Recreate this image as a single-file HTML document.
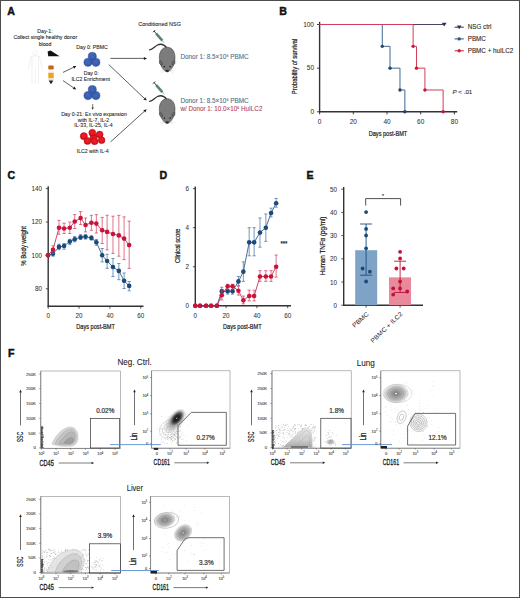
<!DOCTYPE html>
<html><head><meta charset="utf-8"><title>Figure</title>
<style>
html,body{margin:0;padding:0;background:#fff;}
svg{display:block;}
text{font-family:"Liberation Sans", sans-serif;}
</style></head>
<body>
<svg width="520" height="598" viewBox="0 0 520 598">
<defs>
<radialGradient id="gBlueCell" cx="50%" cy="45%" r="55%"><stop offset="0" stop-color="#4a72c4"/><stop offset="0.7" stop-color="#3a60b2"/><stop offset="1" stop-color="#2a4a94"/></radialGradient>
<radialGradient id="gRedCell" cx="50%" cy="45%" r="55%"><stop offset="0" stop-color="#f0202a"/><stop offset="0.7" stop-color="#e0141e"/><stop offset="1" stop-color="#b00812"/></radialGradient>
<radialGradient id="gBlob" cx="50%" cy="50%" r="50%"><stop offset="0" stop-color="#111"/><stop offset="0.35" stop-color="#555"/><stop offset="0.7" stop-color="#aaa"/><stop offset="1" stop-color="#fff" stop-opacity="0"/></radialGradient>
<radialGradient id="gBlobL" cx="50%" cy="50%" r="50%"><stop offset="0" stop-color="#444"/><stop offset="0.5" stop-color="#888"/><stop offset="0.85" stop-color="#ccc"/><stop offset="1" stop-color="#fff" stop-opacity="0"/></radialGradient>
<radialGradient id="gC" cx="50%" cy="50%" r="50%"><stop offset="0" stop-color="#333"/><stop offset="0.4" stop-color="#777"/><stop offset="0.8" stop-color="#bbb"/><stop offset="1" stop-color="#ddd" stop-opacity="0.3"/></radialGradient>
<radialGradient id="gK" cx="50%" cy="50%" r="50%"><stop offset="0" stop-color="#000"/><stop offset="0.45" stop-color="#222"/><stop offset="0.75" stop-color="#777"/><stop offset="1" stop-color="#ccc" stop-opacity="0.3"/></radialGradient>
<linearGradient id="gLung" x1="0" y1="0" x2="0" y2="1"><stop offset="0" stop-color="#e4e4e4"/><stop offset="0.6" stop-color="#cfcfcf"/><stop offset="1" stop-color="#a8a8a8"/></linearGradient>
<radialGradient id="gG" cx="50%" cy="50%" r="50%"><stop offset="0" stop-color="#555"/><stop offset="0.35" stop-color="#888"/><stop offset="0.75" stop-color="#bbb"/><stop offset="1" stop-color="#ddd" stop-opacity="0.4"/></radialGradient>
</defs>
<rect x="0.5" y="0.5" width="519" height="597" fill="#fff" stroke="#4c4c4c" stroke-width="1"/>
<text x="7.30" y="14.70" font-size="10.6" text-anchor="start" fill="#111" font-weight="bold" stroke="#111" stroke-width="0.45">A</text>
<text x="279.30" y="14.50" font-size="10.6" text-anchor="start" fill="#111" font-weight="bold" stroke="#111" stroke-width="0.45">B</text>
<text x="7.50" y="179.00" font-size="10.6" text-anchor="start" fill="#111" font-weight="bold" stroke="#111" stroke-width="0.45">C</text>
<text x="159.50" y="179.00" font-size="10.6" text-anchor="start" fill="#111" font-weight="bold" stroke="#111" stroke-width="0.45">D</text>
<text x="306.50" y="179.10" font-size="10.6" text-anchor="start" fill="#111" font-weight="bold" stroke="#111" stroke-width="0.45">E</text>
<text x="7.90" y="357.20" font-size="10.6" text-anchor="start" fill="#111" font-weight="bold" stroke="#111" stroke-width="0.45">F</text>
<text x="45.00" y="33.00" font-size="5.2" text-anchor="middle" fill="#222" font-weight="normal" stroke="#222" stroke-width="0.08">Day-1:</text>
<text x="45.30" y="39.10" font-size="5.2" text-anchor="middle" fill="#222" font-weight="normal" stroke="#222" stroke-width="0.08">Collect single healthy donor</text>
<text x="45.00" y="45.60" font-size="5.2" text-anchor="middle" fill="#222" font-weight="normal" stroke="#222" stroke-width="0.08">blood</text>
<text x="92.00" y="48.70" font-size="5.2" text-anchor="middle" fill="#222" font-weight="normal" stroke="#222" stroke-width="0.08">Day 0: PBMC</text>
<text x="91.20" y="75.30" font-size="5.2" text-anchor="middle" fill="#222" font-weight="normal" stroke="#222" stroke-width="0.08">Day 0:</text>
<text x="90.70" y="81.30" font-size="5.2" text-anchor="middle" fill="#222" font-weight="normal" stroke="#222" stroke-width="0.08">ILC2 Enrichment</text>
<text x="94.00" y="116.00" font-size="5.2" text-anchor="middle" fill="#222" font-weight="normal" stroke="#222" stroke-width="0.08">Day 0-21: Ex vivo expansion</text>
<text x="93.50" y="121.50" font-size="5.2" text-anchor="middle" fill="#222" font-weight="normal" stroke="#222" stroke-width="0.08">with IL-7, IL-2</text>
<text x="93.50" y="127.20" font-size="5.2" text-anchor="middle" fill="#222" font-weight="normal" stroke="#222" stroke-width="0.08">IL-33, IL-25, IL-4</text>
<text x="92.70" y="153.40" font-size="5.2" text-anchor="middle" fill="#222" font-weight="normal" stroke="#222" stroke-width="0.08">ILC2 with IL-4</text>
<text x="159.60" y="25.80" font-size="5.5" text-anchor="middle" fill="#222" font-weight="normal" stroke="#222" stroke-width="0.08">Conditioned NSG</text>
<text x="180.40" y="59.00" font-size="6.4" text-anchor="start" fill="#4a6e92" font-weight="normal" stroke="#4a6e92" stroke-width="0.08">Donor 1: 8.5×10<tspan font-size="3.6" dy="-2.3">6</tspan><tspan dy="2.3"> PBMC</tspan></text>
<text x="180.40" y="102.80" font-size="6.4" text-anchor="start" fill="#4a6e92" font-weight="normal" stroke="#4a6e92" stroke-width="0.08">Donor 1: 8.5×10<tspan font-size="3.6" dy="-2.3">6</tspan><tspan dy="2.3"> PBMC</tspan></text>
<text x="180.40" y="110.90" font-size="6.3" text-anchor="start" fill="#b8404f" font-weight="normal" stroke="#b8404f" stroke-width="0.08">w/ Donor 1: 10.0×10<tspan font-size="3.6" dy="-2.3">6</tspan><tspan dy="2.3"> HuILC2</tspan></text>
<g fill="none" stroke="#e2e2e2" stroke-width="0.5"><circle cx="35.3" cy="52.6" r="2.2"/><path d="M31,56 L39.5,56 L42.5,70 M31,56 L28.5,70 M32,56 L32,84 M38.5,56 L38.5,84 M35.3,68 L35.3,84"/></g>
<polygon points="47.6,51.5 50.5,50.6 59.5,56.3 48.2,56.3" fill="#111"/>
<rect x="48.3" y="65.6" width="5.4" height="3.9" rx="0.8" fill="#c8641e"/>
<rect x="48.3" y="70.6" width="5.4" height="2.2" fill="#f2f2f2"/>
<rect x="48.3" y="72.8" width="5.4" height="5.2" rx="0.5" fill="#e6a820"/>
<rect x="48.3" y="78.0" width="5.4" height="2.0" fill="#f0e0c0"/>
<polygon points="48.6,80.6 53.4,80.6 51,84.2" fill="#222"/>
<line x1="63.00" y1="72.40" x2="73.51" y2="67.38" stroke="#1a1a1a" stroke-width="0.7" />
<polygon points="76.40,66.00 74.16,68.73 72.87,66.03" fill="#1a1a1a"/>
<line x1="63.00" y1="80.60" x2="73.56" y2="87.80" stroke="#1a1a1a" stroke-width="0.7" />
<polygon points="76.20,89.60 72.71,89.04 74.40,86.56" fill="#1a1a1a"/>
<line x1="110.40" y1="58.40" x2="143.80" y2="58.40" stroke="#1a1a1a" stroke-width="0.7" />
<polygon points="147.00,58.40 143.80,59.90 143.80,56.90" fill="#1a1a1a"/>
<line x1="108.80" y1="64.60" x2="144.38" y2="98.40" stroke="#1a1a1a" stroke-width="0.7" />
<polygon points="146.70,100.60 143.35,99.48 145.41,97.31" fill="#1a1a1a"/>
<line x1="110.60" y1="141.90" x2="144.33" y2="111.35" stroke="#1a1a1a" stroke-width="0.7" />
<polygon points="146.70,109.20 145.34,112.46 143.32,110.24" fill="#1a1a1a"/>
<line x1="92.70" y1="104.00" x2="92.70" y2="107.60" stroke="#1a1a1a" stroke-width="0.6" />
<polygon points="92.70,109.80 91.60,107.60 93.80,107.60" fill="#1a1a1a"/>
<circle cx="88.00" cy="62.30" r="4.10" fill="url(#gBlueCell)" stroke="#2d4f9a" stroke-width="0.4" />
<circle cx="88.60" cy="62.70" r="1.60" fill="none" stroke="#2b4a8c" stroke-width="0.35" />
<circle cx="95.90" cy="62.30" r="4.10" fill="url(#gBlueCell)" stroke="#2d4f9a" stroke-width="0.4" />
<circle cx="96.50" cy="62.70" r="1.60" fill="none" stroke="#2b4a8c" stroke-width="0.35" />
<circle cx="92.30" cy="56.30" r="4.10" fill="url(#gBlueCell)" stroke="#2d4f9a" stroke-width="0.4" />
<circle cx="92.90" cy="56.70" r="1.60" fill="none" stroke="#2b4a8c" stroke-width="0.35" />
<circle cx="88.00" cy="95.60" r="4.10" fill="url(#gBlueCell)" stroke="#2d4f9a" stroke-width="0.4" />
<circle cx="88.60" cy="96.00" r="1.60" fill="none" stroke="#2b4a8c" stroke-width="0.35" />
<circle cx="95.90" cy="95.60" r="4.10" fill="url(#gBlueCell)" stroke="#2d4f9a" stroke-width="0.4" />
<circle cx="96.50" cy="96.00" r="1.60" fill="none" stroke="#2b4a8c" stroke-width="0.35" />
<circle cx="92.30" cy="89.60" r="4.10" fill="url(#gBlueCell)" stroke="#2d4f9a" stroke-width="0.4" />
<circle cx="92.90" cy="90.00" r="1.60" fill="none" stroke="#2b4a8c" stroke-width="0.35" />
<circle cx="93.50" cy="137.50" r="3.40" fill="url(#gRedCell)" stroke="#b80c16" stroke-width="0.4" />
<circle cx="83.80" cy="136.20" r="3.60" fill="url(#gRedCell)" stroke="#b80c16" stroke-width="0.4" />
<circle cx="92.30" cy="132.70" r="3.50" fill="url(#gRedCell)" stroke="#b80c16" stroke-width="0.4" />
<circle cx="99.60" cy="134.60" r="3.50" fill="url(#gRedCell)" stroke="#b80c16" stroke-width="0.4" />
<circle cx="87.50" cy="141.00" r="3.50" fill="url(#gRedCell)" stroke="#b80c16" stroke-width="0.4" />
<circle cx="94.60" cy="141.20" r="3.50" fill="url(#gRedCell)" stroke="#b80c16" stroke-width="0.4" />
<circle cx="101.60" cy="140.20" r="3.40" fill="url(#gRedCell)" stroke="#b80c16" stroke-width="0.4" />
<path d="M166.6,47.6 C164,44.3 160.5,43.6 157.5,45 C154.5,46.6 152.5,49.6 149.6,49.8" fill="none" stroke="#333" stroke-width="1.3" stroke-linecap="round"/>
<line x1="156.2" y1="33.6" x2="162.4" y2="40.6" stroke="#5e8878" stroke-width="2.6" stroke-linecap="butt"/>
<line x1="156.2" y1="33.6" x2="162.4" y2="40.6" stroke="#2a4a40" stroke-width="0.35" stroke-dasharray="1,1"/>
<line x1="154.0" y1="31.0" x2="156.4" y2="33.8" stroke="#1e2a28" stroke-width="0.9"/>
<line x1="153.0" y1="32.2" x2="155.2" y2="30.0" stroke="#1e2a28" stroke-width="0.9"/>
<line x1="162.4" y1="40.6" x2="164.2" y2="42.8" stroke="#444" stroke-width="0.45"/>
<path d="M167.2,47.2 C172.4,47.2 175.0,52 175.0,57.5 C175.0,62.5 173.6,65.8 172.0,68.0 C170.6,70.2 169,71.9 167.2,71.9 C165.4,71.9 163.8,70.2 162.4,68.0 C160.8,65.8 159.3,62.5 159.3,57.5 C159.3,52 162,47.2 167.2,47.2 Z" fill="#7c7c7c" stroke="#3c3c3c" stroke-width="0.55"/>
<path d="M160.0,60.5 C158.6,62.5 159.6,65.2 162.4,65.0 C162.6,63 162,61 160.0,60.5 Z" fill="#6a6a6a" stroke="#3a3a3a" stroke-width="0.45"/>
<path d="M174.4,60.5 C175.8,62.5 174.8,65.2 172.0,65.0 C171.8,63 172.4,61 174.4,60.5 Z" fill="#6a6a6a" stroke="#3a3a3a" stroke-width="0.45"/>
<circle cx="164.3" cy="66.6" r="0.8" fill="#222"/>
<circle cx="170.1" cy="66.6" r="0.8" fill="#222"/>
<ellipse cx="167.2" cy="70.8" rx="1.7" ry="1.1" fill="#2a2a2a"/>
<path d="M164.5,69.5 L160.5,71.0 M164.5,70.4 L161.2,73.2 M169.9,69.5 L173.9,71.0 M169.9,70.4 L173.2,73.2" stroke="#bbb" stroke-width="0.35"/>
<path d="M166.6,99.1 C164,95.8 160.5,95.1 157.5,96.5 C154.5,98.1 152.5,101.1 149.6,101.3" fill="none" stroke="#333" stroke-width="1.3" stroke-linecap="round"/>
<line x1="156.2" y1="85.1" x2="162.4" y2="92.1" stroke="#5e8878" stroke-width="2.6" stroke-linecap="butt"/>
<line x1="156.2" y1="85.1" x2="162.4" y2="92.1" stroke="#2a4a40" stroke-width="0.35" stroke-dasharray="1,1"/>
<line x1="154.0" y1="82.5" x2="156.4" y2="85.3" stroke="#1e2a28" stroke-width="0.9"/>
<line x1="153.0" y1="83.7" x2="155.2" y2="81.5" stroke="#1e2a28" stroke-width="0.9"/>
<line x1="162.4" y1="92.1" x2="164.2" y2="94.3" stroke="#444" stroke-width="0.45"/>
<path d="M167.2,98.7 C172.4,98.7 175.0,103.5 175.0,109.0 C175.0,114.0 173.6,117.3 172.0,119.5 C170.6,121.7 169,123.4 167.2,123.4 C165.4,123.4 163.8,121.7 162.4,119.5 C160.8,117.3 159.3,114.0 159.3,109.0 C159.3,103.5 162,98.7 167.2,98.7 Z" fill="#7c7c7c" stroke="#3c3c3c" stroke-width="0.55"/>
<path d="M160.0,112.0 C158.6,114.0 159.6,116.7 162.4,116.5 C162.6,114.5 162,112.5 160.0,112.0 Z" fill="#6a6a6a" stroke="#3a3a3a" stroke-width="0.45"/>
<path d="M174.4,112.0 C175.8,114.0 174.8,116.7 172.0,116.5 C171.8,114.5 172.4,112.5 174.4,112.0 Z" fill="#6a6a6a" stroke="#3a3a3a" stroke-width="0.45"/>
<circle cx="164.3" cy="118.1" r="0.8" fill="#222"/>
<circle cx="170.1" cy="118.1" r="0.8" fill="#222"/>
<ellipse cx="167.2" cy="122.3" rx="1.7" ry="1.1" fill="#2a2a2a"/>
<path d="M164.5,121.0 L160.5,122.5 M164.5,121.9 L161.2,124.7 M169.9,121.0 L173.9,122.5 M169.9,121.9 L173.2,124.7" stroke="#bbb" stroke-width="0.35"/>
<line x1="319.60" y1="21.80" x2="319.60" y2="112.40" stroke="#333" stroke-width="1.4" />
<line x1="319.00" y1="111.80" x2="457.20" y2="111.80" stroke="#333" stroke-width="1.4" />
<line x1="317.00" y1="111.80" x2="319.60" y2="111.80" stroke="#2a2a2a" stroke-width="0.9" />
<text x="314.00" y="114.10" font-size="6.5" text-anchor="end" fill="#333" font-weight="normal" stroke="#333" stroke-width="0.05">0</text>
<line x1="317.00" y1="68.15" x2="319.60" y2="68.15" stroke="#2a2a2a" stroke-width="0.9" />
<text x="314.00" y="70.45" font-size="6.5" text-anchor="end" fill="#333" font-weight="normal" stroke="#333" stroke-width="0.05">50</text>
<line x1="317.00" y1="24.50" x2="319.60" y2="24.50" stroke="#2a2a2a" stroke-width="0.9" />
<text x="314.00" y="26.80" font-size="6.5" text-anchor="end" fill="#333" font-weight="normal" stroke="#333" stroke-width="0.05">100</text>
<line x1="319.60" y1="111.80" x2="319.60" y2="114.40" stroke="#2a2a2a" stroke-width="0.9" />
<text x="319.60" y="123.90" font-size="6.5" text-anchor="middle" fill="#333" font-weight="normal" stroke="#333" stroke-width="0.05">0</text>
<line x1="353.30" y1="111.80" x2="353.30" y2="114.40" stroke="#2a2a2a" stroke-width="0.9" />
<text x="353.30" y="123.90" font-size="6.5" text-anchor="middle" fill="#333" font-weight="normal" stroke="#333" stroke-width="0.05">20</text>
<line x1="387.00" y1="111.80" x2="387.00" y2="114.40" stroke="#2a2a2a" stroke-width="0.9" />
<text x="387.00" y="123.90" font-size="6.5" text-anchor="middle" fill="#333" font-weight="normal" stroke="#333" stroke-width="0.05">40</text>
<line x1="420.70" y1="111.80" x2="420.70" y2="114.40" stroke="#2a2a2a" stroke-width="0.9" />
<text x="420.70" y="123.90" font-size="6.5" text-anchor="middle" fill="#333" font-weight="normal" stroke="#333" stroke-width="0.05">60</text>
<line x1="454.40" y1="111.80" x2="454.40" y2="114.40" stroke="#2a2a2a" stroke-width="0.9" />
<text x="454.40" y="123.90" font-size="6.5" text-anchor="middle" fill="#333" font-weight="normal" stroke="#333" stroke-width="0.05">80</text>
<text x="388.00" y="135.70" font-size="7.8" text-anchor="middle" fill="#1a1a1a" textLength="38.6" lengthAdjust="spacingAndGlyphs" stroke="#1a1a1a" stroke-width="0.22">Days post-BMT</text>
<text transform="translate(294.20,66.50) rotate(-90)" x="0" y="2.66" font-size="7.4" text-anchor="middle" fill="#1a1a1a" textLength="55.4" lengthAdjust="spacingAndGlyphs" stroke="#1a1a1a" stroke-width="0.22">Probability of survival</text>
<line x1="319.60" y1="24.50" x2="444.20" y2="24.50" stroke="#4e4066" stroke-width="1.0" />
<polygon points="441.80,22.70 446.60,22.70 444.2,26.50" fill="#3a2c52"/>
<path d="M319.60,24.50 H382.28 V46.33 H390.03 V68.15 H399.97 V89.97 H404.86 V111.80" fill="none" stroke="#3f6892" stroke-width="1.0"/>
<circle cx="382.28" cy="46.33" r="1.70" fill="#1d4570" stroke="none" stroke-width="0" />
<circle cx="390.03" cy="68.15" r="1.70" fill="#1d4570" stroke="none" stroke-width="0" />
<circle cx="399.97" cy="89.97" r="1.70" fill="#1d4570" stroke="none" stroke-width="0" />
<circle cx="404.86" cy="111.80" r="1.70" fill="#1d4570" stroke="none" stroke-width="0" />
<path d="M319.60,24.50 H413.12 V46.33 H416.49 V68.15 H424.91 V89.97 H443.11 V111.80" fill="none" stroke="#d23c58" stroke-width="1.0"/>
<circle cx="413.12" cy="46.33" r="1.70" fill="#c01838" stroke="none" stroke-width="0" />
<circle cx="416.49" cy="68.15" r="1.70" fill="#c01838" stroke="none" stroke-width="0" />
<circle cx="424.91" cy="89.97" r="1.70" fill="#c01838" stroke="none" stroke-width="0" />
<circle cx="443.11" cy="111.80" r="1.70" fill="#c01838" stroke="none" stroke-width="0" />
<line x1="454.60" y1="27.20" x2="463.80" y2="27.20" stroke="#3a2c52" stroke-width="1.0" />
<polygon points="456.90,25.50 461.50,25.50 459.2,29.20" fill="#3a2c52"/>
<text x="467.70" y="29.40" font-size="6.3" text-anchor="start" fill="#222" font-weight="normal" stroke="#222" stroke-width="0.08">NSG ctrl</text>
<line x1="454.60" y1="38.90" x2="463.80" y2="38.90" stroke="#2b5685" stroke-width="1.0" />
<circle cx="459.20" cy="38.90" r="1.70" fill="#2b5685" stroke="none" stroke-width="0" />
<text x="467.70" y="41.10" font-size="6.3" text-anchor="start" fill="#222" font-weight="normal" stroke="#222" stroke-width="0.08">PBMC</text>
<line x1="454.60" y1="50.80" x2="463.80" y2="50.80" stroke="#c8203f" stroke-width="1.0" />
<circle cx="459.20" cy="50.80" r="1.70" fill="#c8203f" stroke="none" stroke-width="0" />
<text x="467.70" y="53.00" font-size="6.3" text-anchor="start" fill="#222" font-weight="normal" stroke="#222" stroke-width="0.08">PBMC + huILC2</text>
<text x="452.50" y="93.90" font-size="6.2" text-anchor="start" fill="#222" font-weight="normal" stroke="#222" stroke-width="0.08"><tspan font-style="italic">P</tspan> &lt; .01</text>
<line x1="48.20" y1="186.30" x2="48.20" y2="306.90" stroke="#333" stroke-width="1.4" />
<line x1="47.60" y1="306.30" x2="143.50" y2="306.30" stroke="#333" stroke-width="1.4" />
<line x1="45.80" y1="288.80" x2="48.20" y2="288.80" stroke="#2a2a2a" stroke-width="0.8" />
<text x="41.90" y="291.00" font-size="6.3" text-anchor="end" fill="#333" font-weight="normal" stroke="#333" stroke-width="0.05">80</text>
<line x1="45.80" y1="255.40" x2="48.20" y2="255.40" stroke="#2a2a2a" stroke-width="0.8" />
<text x="41.90" y="257.60" font-size="6.3" text-anchor="end" fill="#333" font-weight="normal" stroke="#333" stroke-width="0.05">100</text>
<line x1="45.80" y1="222.00" x2="48.20" y2="222.00" stroke="#2a2a2a" stroke-width="0.8" />
<text x="41.90" y="224.20" font-size="6.3" text-anchor="end" fill="#333" font-weight="normal" stroke="#333" stroke-width="0.05">120</text>
<line x1="45.80" y1="188.60" x2="48.20" y2="188.60" stroke="#2a2a2a" stroke-width="0.8" />
<text x="41.90" y="190.80" font-size="6.3" text-anchor="end" fill="#333" font-weight="normal" stroke="#333" stroke-width="0.05">140</text>
<line x1="48.20" y1="306.30" x2="48.20" y2="308.70" stroke="#2a2a2a" stroke-width="0.8" />
<text x="48.20" y="317.90" font-size="6.3" text-anchor="middle" fill="#333" font-weight="normal" stroke="#333" stroke-width="0.05">0</text>
<line x1="79.05" y1="306.30" x2="79.05" y2="308.70" stroke="#2a2a2a" stroke-width="0.8" />
<text x="79.05" y="317.90" font-size="6.3" text-anchor="middle" fill="#333" font-weight="normal" stroke="#333" stroke-width="0.05">20</text>
<line x1="109.90" y1="306.30" x2="109.90" y2="308.70" stroke="#2a2a2a" stroke-width="0.8" />
<text x="109.90" y="317.90" font-size="6.3" text-anchor="middle" fill="#333" font-weight="normal" stroke="#333" stroke-width="0.05">40</text>
<line x1="140.75" y1="306.30" x2="140.75" y2="308.70" stroke="#2a2a2a" stroke-width="0.8" />
<text x="140.75" y="317.90" font-size="6.3" text-anchor="middle" fill="#333" font-weight="normal" stroke="#333" stroke-width="0.05">60</text>
<text x="95.60" y="329.20" font-size="7.8" text-anchor="middle" fill="#1a1a1a" textLength="38.6" lengthAdjust="spacingAndGlyphs" stroke="#1a1a1a" stroke-width="0.22">Days post-BMT</text>
<text transform="translate(22.90,245.90) rotate(-90)" x="0" y="2.66" font-size="7.4" text-anchor="middle" fill="#1a1a1a" textLength="39.5" lengthAdjust="spacingAndGlyphs" stroke="#1a1a1a" stroke-width="0.22">% Body weight</text>
<polyline points="48.00,255.20 52.98,253.80 59.00,246.90 64.09,246.00 69.80,241.60 74.73,239.30 80.59,237.20 85.53,236.80 91.39,237.90 96.33,242.30 102.19,255.20 107.12,261.00 112.98,267.00 118.85,270.90 124.09,280.80 129.18,285.90" fill="none" stroke="#1b4a7a" stroke-width="0.8"/>
<path d="M52.98,252.00 V256.20 M51.38,252.00 H54.58 M51.38,256.20 H54.58" stroke="#3d6d9d" stroke-width="0.7" fill="none"/>
<path d="M59.00,244.20 V249.70 M57.40,244.20 H60.60 M57.40,249.70 H60.60" stroke="#3d6d9d" stroke-width="0.7" fill="none"/>
<path d="M64.09,243.50 V249.20 M62.49,243.50 H65.69 M62.49,249.20 H65.69" stroke="#3d6d9d" stroke-width="0.7" fill="none"/>
<path d="M69.80,239.30 V244.60 M68.20,239.30 H71.39 M68.20,244.60 H71.39" stroke="#3d6d9d" stroke-width="0.7" fill="none"/>
<path d="M74.73,236.50 V241.80 M73.13,236.50 H76.33 M73.13,241.80 H76.33" stroke="#3d6d9d" stroke-width="0.7" fill="none"/>
<path d="M80.59,234.70 V239.50 M78.99,234.70 H82.19 M78.99,239.50 H82.19" stroke="#3d6d9d" stroke-width="0.7" fill="none"/>
<path d="M85.53,234.70 V239.10 M83.93,234.70 H87.13 M83.93,239.10 H87.13" stroke="#3d6d9d" stroke-width="0.7" fill="none"/>
<path d="M91.39,236.00 V240.00 M89.79,236.00 H92.99 M89.79,240.00 H92.99" stroke="#3d6d9d" stroke-width="0.7" fill="none"/>
<path d="M96.33,239.50 V245.30 M94.73,239.50 H97.93 M94.73,245.30 H97.93" stroke="#3d6d9d" stroke-width="0.7" fill="none"/>
<path d="M102.19,248.50 V261.90 M100.59,248.50 H103.79 M100.59,261.90 H103.79" stroke="#3d6d9d" stroke-width="0.7" fill="none"/>
<path d="M107.12,254.30 V268.40 M105.52,254.30 H108.72 M105.52,268.40 H108.72" stroke="#3d6d9d" stroke-width="0.7" fill="none"/>
<path d="M112.98,258.50 V276.50 M111.39,258.50 H114.58 M111.39,276.50 H114.58" stroke="#3d6d9d" stroke-width="0.7" fill="none"/>
<path d="M118.85,263.50 V279.70 M117.25,263.50 H120.45 M117.25,279.70 H120.45" stroke="#3d6d9d" stroke-width="0.7" fill="none"/>
<path d="M124.09,273.00 V288.50 M122.49,273.00 H125.69 M122.49,288.50 H125.69" stroke="#3d6d9d" stroke-width="0.7" fill="none"/>
<path d="M129.18,281.50 V290.80 M127.58,281.50 H130.78 M127.58,290.80 H130.78" stroke="#3d6d9d" stroke-width="0.7" fill="none"/>
<circle cx="48.00" cy="255.20" r="2.30" fill="#1b4a7a" stroke="none" stroke-width="0" />
<circle cx="52.98" cy="253.80" r="2.30" fill="#1b4a7a" stroke="none" stroke-width="0" />
<circle cx="59.00" cy="246.90" r="2.30" fill="#1b4a7a" stroke="none" stroke-width="0" />
<circle cx="64.09" cy="246.00" r="2.30" fill="#1b4a7a" stroke="none" stroke-width="0" />
<circle cx="69.80" cy="241.60" r="2.30" fill="#1b4a7a" stroke="none" stroke-width="0" />
<circle cx="74.73" cy="239.30" r="2.30" fill="#1b4a7a" stroke="none" stroke-width="0" />
<circle cx="80.59" cy="237.20" r="2.30" fill="#1b4a7a" stroke="none" stroke-width="0" />
<circle cx="85.53" cy="236.80" r="2.30" fill="#1b4a7a" stroke="none" stroke-width="0" />
<circle cx="91.39" cy="237.90" r="2.30" fill="#1b4a7a" stroke="none" stroke-width="0" />
<circle cx="96.33" cy="242.30" r="2.30" fill="#1b4a7a" stroke="none" stroke-width="0" />
<circle cx="102.19" cy="255.20" r="2.30" fill="#1b4a7a" stroke="none" stroke-width="0" />
<circle cx="107.12" cy="261.00" r="2.30" fill="#1b4a7a" stroke="none" stroke-width="0" />
<circle cx="112.98" cy="267.00" r="2.30" fill="#1b4a7a" stroke="none" stroke-width="0" />
<circle cx="118.85" cy="270.90" r="2.30" fill="#1b4a7a" stroke="none" stroke-width="0" />
<circle cx="124.09" cy="280.80" r="2.30" fill="#1b4a7a" stroke="none" stroke-width="0" />
<circle cx="129.18" cy="285.90" r="2.30" fill="#1b4a7a" stroke="none" stroke-width="0" />
<polyline points="48.00,255.20 52.98,249.70 59.00,227.80 64.09,228.50 69.80,227.80 74.73,221.50 80.59,218.10 85.53,225.00 91.39,222.70 96.33,223.60 102.19,230.30 107.12,231.90 112.98,234.00 118.85,235.40 124.09,238.60 129.18,245.10" fill="none" stroke="#c8143c" stroke-width="0.8"/>
<path d="M52.98,245.80 V253.40 M51.38,245.80 H54.58 M51.38,253.40 H54.58" stroke="#d23a5a" stroke-width="0.7" fill="none"/>
<path d="M59.00,220.40 V234.20 M57.40,220.40 H60.60 M57.40,234.20 H60.60" stroke="#d23a5a" stroke-width="0.7" fill="none"/>
<path d="M64.09,223.20 V233.50 M62.49,223.20 H65.69 M62.49,233.50 H65.69" stroke="#d23a5a" stroke-width="0.7" fill="none"/>
<path d="M69.80,222.00 V233.50 M68.20,222.00 H71.39 M68.20,233.50 H71.39" stroke="#d23a5a" stroke-width="0.7" fill="none"/>
<path d="M74.73,214.60 V228.50 M73.13,214.60 H76.33 M73.13,228.50 H76.33" stroke="#d23a5a" stroke-width="0.7" fill="none"/>
<path d="M80.59,211.60 V224.50 M78.99,211.60 H82.19 M78.99,224.50 H82.19" stroke="#d23a5a" stroke-width="0.7" fill="none"/>
<path d="M85.53,218.00 V231.90 M83.93,218.00 H87.13 M83.93,231.90 H87.13" stroke="#d23a5a" stroke-width="0.7" fill="none"/>
<path d="M91.39,215.30 V230.30 M89.79,215.30 H92.99 M89.79,230.30 H92.99" stroke="#d23a5a" stroke-width="0.7" fill="none"/>
<path d="M96.33,214.60 V233.00 M94.73,214.60 H97.93 M94.73,233.00 H97.93" stroke="#d23a5a" stroke-width="0.7" fill="none"/>
<path d="M102.19,217.40 V243.50 M100.59,217.40 H103.79 M100.59,243.50 H103.79" stroke="#d23a5a" stroke-width="0.7" fill="none"/>
<path d="M107.12,215.30 V249.90 M105.52,215.30 H108.72 M105.52,249.90 H108.72" stroke="#d23a5a" stroke-width="0.7" fill="none"/>
<path d="M112.98,216.20 V253.40 M111.39,216.20 H114.58 M111.39,253.40 H114.58" stroke="#d23a5a" stroke-width="0.7" fill="none"/>
<path d="M118.85,215.30 V256.20 M117.25,215.30 H120.45 M117.25,256.20 H120.45" stroke="#d23a5a" stroke-width="0.7" fill="none"/>
<path d="M124.09,216.90 V259.60 M122.49,216.90 H125.69 M122.49,259.60 H125.69" stroke="#d23a5a" stroke-width="0.7" fill="none"/>
<path d="M129.18,221.10 V268.40 M127.58,221.10 H130.78 M127.58,268.40 H130.78" stroke="#d23a5a" stroke-width="0.7" fill="none"/>
<circle cx="48.00" cy="255.20" r="2.30" fill="#c8143c" stroke="none" stroke-width="0" />
<circle cx="52.98" cy="249.70" r="2.30" fill="#c8143c" stroke="none" stroke-width="0" />
<circle cx="59.00" cy="227.80" r="2.30" fill="#c8143c" stroke="none" stroke-width="0" />
<circle cx="64.09" cy="228.50" r="2.30" fill="#c8143c" stroke="none" stroke-width="0" />
<circle cx="69.80" cy="227.80" r="2.30" fill="#c8143c" stroke="none" stroke-width="0" />
<circle cx="74.73" cy="221.50" r="2.30" fill="#c8143c" stroke="none" stroke-width="0" />
<circle cx="80.59" cy="218.10" r="2.30" fill="#c8143c" stroke="none" stroke-width="0" />
<circle cx="85.53" cy="225.00" r="2.30" fill="#c8143c" stroke="none" stroke-width="0" />
<circle cx="91.39" cy="222.70" r="2.30" fill="#c8143c" stroke="none" stroke-width="0" />
<circle cx="96.33" cy="223.60" r="2.30" fill="#c8143c" stroke="none" stroke-width="0" />
<circle cx="102.19" cy="230.30" r="2.30" fill="#c8143c" stroke="none" stroke-width="0" />
<circle cx="107.12" cy="231.90" r="2.30" fill="#c8143c" stroke="none" stroke-width="0" />
<circle cx="112.98" cy="234.00" r="2.30" fill="#c8143c" stroke="none" stroke-width="0" />
<circle cx="118.85" cy="235.40" r="2.30" fill="#c8143c" stroke="none" stroke-width="0" />
<circle cx="124.09" cy="238.60" r="2.30" fill="#c8143c" stroke="none" stroke-width="0" />
<circle cx="129.18" cy="245.10" r="2.30" fill="#c8143c" stroke="none" stroke-width="0" />
<line x1="195.30" y1="186.50" x2="195.30" y2="306.40" stroke="#333" stroke-width="1.4" />
<line x1="194.70" y1="305.80" x2="291.00" y2="305.80" stroke="#333" stroke-width="1.4" />
<line x1="192.90" y1="305.80" x2="195.30" y2="305.80" stroke="#2a2a2a" stroke-width="0.8" />
<text x="189.10" y="308.00" font-size="6.3" text-anchor="end" fill="#333" font-weight="normal" stroke="#333" stroke-width="0.05">0</text>
<line x1="192.90" y1="266.75" x2="195.30" y2="266.75" stroke="#2a2a2a" stroke-width="0.8" />
<text x="189.10" y="268.95" font-size="6.3" text-anchor="end" fill="#333" font-weight="normal" stroke="#333" stroke-width="0.05">2</text>
<line x1="192.90" y1="227.70" x2="195.30" y2="227.70" stroke="#2a2a2a" stroke-width="0.8" />
<text x="189.10" y="229.90" font-size="6.3" text-anchor="end" fill="#333" font-weight="normal" stroke="#333" stroke-width="0.05">4</text>
<line x1="192.90" y1="188.65" x2="195.30" y2="188.65" stroke="#2a2a2a" stroke-width="0.8" />
<text x="189.10" y="190.85" font-size="6.3" text-anchor="end" fill="#333" font-weight="normal" stroke="#333" stroke-width="0.05">6</text>
<line x1="195.30" y1="305.80" x2="195.30" y2="308.20" stroke="#2a2a2a" stroke-width="0.8" />
<text x="195.30" y="317.90" font-size="6.3" text-anchor="middle" fill="#333" font-weight="normal" stroke="#333" stroke-width="0.05">0</text>
<line x1="226.10" y1="305.80" x2="226.10" y2="308.20" stroke="#2a2a2a" stroke-width="0.8" />
<text x="226.10" y="317.90" font-size="6.3" text-anchor="middle" fill="#333" font-weight="normal" stroke="#333" stroke-width="0.05">20</text>
<line x1="256.90" y1="305.80" x2="256.90" y2="308.20" stroke="#2a2a2a" stroke-width="0.8" />
<text x="256.90" y="317.90" font-size="6.3" text-anchor="middle" fill="#333" font-weight="normal" stroke="#333" stroke-width="0.05">40</text>
<line x1="287.70" y1="305.80" x2="287.70" y2="308.20" stroke="#2a2a2a" stroke-width="0.8" />
<text x="287.70" y="317.90" font-size="6.3" text-anchor="middle" fill="#333" font-weight="normal" stroke="#333" stroke-width="0.05">60</text>
<text x="242.30" y="329.20" font-size="7.8" text-anchor="middle" fill="#1a1a1a" textLength="38.6" lengthAdjust="spacingAndGlyphs" stroke="#1a1a1a" stroke-width="0.22">Days post-BMT</text>
<text transform="translate(177.70,245.80) rotate(-90)" x="0" y="2.66" font-size="7.4" text-anchor="middle" fill="#1a1a1a" textLength="34.2" lengthAdjust="spacingAndGlyphs" stroke="#1a1a1a" stroke-width="0.22">Clinical score</text>
<polyline points="195.30,305.80 200.07,305.80 206.08,305.80 211.16,305.80 216.86,305.80 221.79,291.16 227.64,291.16 232.57,291.16 238.42,281.39 243.35,271.63 249.20,242.34 254.13,242.34 259.98,232.58 265.83,227.70 271.07,213.06 276.15,203.29" fill="none" stroke="#1b4a7a" stroke-width="0.8"/>
<path d="M221.79,287.25 V295.06 M220.19,287.25 H223.39 M220.19,295.06 H223.39" stroke="#3d6d9d" stroke-width="0.7" fill="none"/>
<path d="M227.64,287.25 V294.09 M226.04,287.25 H229.24 M226.04,294.09 H229.24" stroke="#3d6d9d" stroke-width="0.7" fill="none"/>
<path d="M232.57,287.25 V294.09 M230.97,287.25 H234.17 M230.97,294.09 H234.17" stroke="#3d6d9d" stroke-width="0.7" fill="none"/>
<path d="M238.42,276.51 V285.30 M236.82,276.51 H240.02 M236.82,285.30 H240.02" stroke="#3d6d9d" stroke-width="0.7" fill="none"/>
<path d="M243.35,261.87 V281.39 M241.75,261.87 H244.95 M241.75,281.39 H244.95" stroke="#3d6d9d" stroke-width="0.7" fill="none"/>
<path d="M249.20,227.70 V255.82 M247.60,227.70 H250.80 M247.60,255.82 H250.80" stroke="#3d6d9d" stroke-width="0.7" fill="none"/>
<path d="M254.13,227.70 V255.82 M252.53,227.70 H255.73 M252.53,255.82 H255.73" stroke="#3d6d9d" stroke-width="0.7" fill="none"/>
<path d="M259.98,217.94 V247.23 M258.38,217.94 H261.58 M258.38,247.23 H261.58" stroke="#3d6d9d" stroke-width="0.7" fill="none"/>
<path d="M265.83,214.03 V241.37 M264.23,214.03 H267.43 M264.23,241.37 H267.43" stroke="#3d6d9d" stroke-width="0.7" fill="none"/>
<path d="M271.07,208.18 V216.96 M269.47,208.18 H272.67 M269.47,216.96 H272.67" stroke="#3d6d9d" stroke-width="0.7" fill="none"/>
<path d="M276.15,198.41 V207.20 M274.55,198.41 H277.75 M274.55,207.20 H277.75" stroke="#3d6d9d" stroke-width="0.7" fill="none"/>
<circle cx="195.30" cy="305.80" r="2.30" fill="#1b4a7a" stroke="none" stroke-width="0" />
<circle cx="200.07" cy="305.80" r="2.30" fill="#1b4a7a" stroke="none" stroke-width="0" />
<circle cx="206.08" cy="305.80" r="2.30" fill="#1b4a7a" stroke="none" stroke-width="0" />
<circle cx="211.16" cy="305.80" r="2.30" fill="#1b4a7a" stroke="none" stroke-width="0" />
<circle cx="216.86" cy="305.80" r="2.30" fill="#1b4a7a" stroke="none" stroke-width="0" />
<circle cx="221.79" cy="291.16" r="2.30" fill="#1b4a7a" stroke="none" stroke-width="0" />
<circle cx="227.64" cy="291.16" r="2.30" fill="#1b4a7a" stroke="none" stroke-width="0" />
<circle cx="232.57" cy="291.16" r="2.30" fill="#1b4a7a" stroke="none" stroke-width="0" />
<circle cx="238.42" cy="281.39" r="2.30" fill="#1b4a7a" stroke="none" stroke-width="0" />
<circle cx="243.35" cy="271.63" r="2.30" fill="#1b4a7a" stroke="none" stroke-width="0" />
<circle cx="249.20" cy="242.34" r="2.30" fill="#1b4a7a" stroke="none" stroke-width="0" />
<circle cx="254.13" cy="242.34" r="2.30" fill="#1b4a7a" stroke="none" stroke-width="0" />
<circle cx="259.98" cy="232.58" r="2.30" fill="#1b4a7a" stroke="none" stroke-width="0" />
<circle cx="265.83" cy="227.70" r="2.30" fill="#1b4a7a" stroke="none" stroke-width="0" />
<circle cx="271.07" cy="213.06" r="2.30" fill="#1b4a7a" stroke="none" stroke-width="0" />
<circle cx="276.15" cy="203.29" r="2.30" fill="#1b4a7a" stroke="none" stroke-width="0" />
<polyline points="195.30,305.80 200.07,305.80 206.08,305.80 211.16,305.80 216.86,305.80 221.79,295.26 227.64,286.28 232.57,286.28 238.42,290.77 243.35,300.33 249.20,296.04 254.13,296.04 259.98,276.51 265.83,276.51 271.07,276.51 276.15,266.75" fill="none" stroke="#c8143c" stroke-width="0.8"/>
<path d="M221.79,290.18 V299.94 M220.19,290.18 H223.39 M220.19,299.94 H223.39" stroke="#d23a5a" stroke-width="0.7" fill="none"/>
<path d="M227.64,284.32 V289.20 M226.04,284.32 H229.24 M226.04,289.20 H229.24" stroke="#d23a5a" stroke-width="0.7" fill="none"/>
<path d="M232.57,284.32 V289.20 M230.97,284.32 H234.17 M230.97,289.20 H234.17" stroke="#d23a5a" stroke-width="0.7" fill="none"/>
<path d="M238.42,286.28 V295.06 M236.82,286.28 H240.02 M236.82,295.06 H240.02" stroke="#d23a5a" stroke-width="0.7" fill="none"/>
<path d="M243.35,296.04 V303.85 M241.75,296.04 H244.95 M241.75,303.85 H244.95" stroke="#d23a5a" stroke-width="0.7" fill="none"/>
<path d="M249.20,290.18 V300.92 M247.60,290.18 H250.80 M247.60,300.92 H250.80" stroke="#d23a5a" stroke-width="0.7" fill="none"/>
<path d="M254.13,290.18 V300.92 M252.53,290.18 H255.73 M252.53,300.92 H255.73" stroke="#d23a5a" stroke-width="0.7" fill="none"/>
<path d="M259.98,270.66 V281.39 M258.38,270.66 H261.58 M258.38,281.39 H261.58" stroke="#d23a5a" stroke-width="0.7" fill="none"/>
<path d="M265.83,270.66 V281.39 M264.23,270.66 H267.43 M264.23,281.39 H267.43" stroke="#d23a5a" stroke-width="0.7" fill="none"/>
<path d="M271.07,270.66 V281.39 M269.47,270.66 H272.67 M269.47,281.39 H272.67" stroke="#d23a5a" stroke-width="0.7" fill="none"/>
<path d="M276.15,255.04 V277.10 M274.55,255.04 H277.75 M274.55,277.10 H277.75" stroke="#d23a5a" stroke-width="0.7" fill="none"/>
<circle cx="195.30" cy="305.80" r="2.30" fill="#c8143c" stroke="none" stroke-width="0" />
<circle cx="200.07" cy="305.80" r="2.30" fill="#c8143c" stroke="none" stroke-width="0" />
<circle cx="206.08" cy="305.80" r="2.30" fill="#c8143c" stroke="none" stroke-width="0" />
<circle cx="211.16" cy="305.80" r="2.30" fill="#c8143c" stroke="none" stroke-width="0" />
<circle cx="216.86" cy="305.80" r="2.30" fill="#c8143c" stroke="none" stroke-width="0" />
<circle cx="221.79" cy="295.26" r="2.30" fill="#c8143c" stroke="none" stroke-width="0" />
<circle cx="227.64" cy="286.28" r="2.30" fill="#c8143c" stroke="none" stroke-width="0" />
<circle cx="232.57" cy="286.28" r="2.30" fill="#c8143c" stroke="none" stroke-width="0" />
<circle cx="238.42" cy="290.77" r="2.30" fill="#c8143c" stroke="none" stroke-width="0" />
<circle cx="243.35" cy="300.33" r="2.30" fill="#c8143c" stroke="none" stroke-width="0" />
<circle cx="249.20" cy="296.04" r="2.30" fill="#c8143c" stroke="none" stroke-width="0" />
<circle cx="254.13" cy="296.04" r="2.30" fill="#c8143c" stroke="none" stroke-width="0" />
<circle cx="259.98" cy="276.51" r="2.30" fill="#c8143c" stroke="none" stroke-width="0" />
<circle cx="265.83" cy="276.51" r="2.30" fill="#c8143c" stroke="none" stroke-width="0" />
<circle cx="271.07" cy="276.51" r="2.30" fill="#c8143c" stroke="none" stroke-width="0" />
<circle cx="276.15" cy="266.75" r="2.30" fill="#c8143c" stroke="none" stroke-width="0" />
<text x="283.90" y="246.20" font-size="6.6" text-anchor="middle" fill="#222" font-weight="normal" textLength="7" lengthAdjust="spacingAndGlyphs" stroke="#222" stroke-width="0.2">***</text>
<line x1="343.70" y1="187.00" x2="343.70" y2="305.80" stroke="#333" stroke-width="1.4" />
<line x1="343.10" y1="305.20" x2="423.00" y2="305.20" stroke="#333" stroke-width="1.4" />
<line x1="341.30" y1="305.20" x2="343.70" y2="305.20" stroke="#2a2a2a" stroke-width="0.8" />
<text x="337.10" y="307.70" font-size="6.3" text-anchor="end" fill="#333" font-weight="normal" stroke="#333" stroke-width="0.05">0</text>
<line x1="341.30" y1="282.00" x2="343.70" y2="282.00" stroke="#2a2a2a" stroke-width="0.8" />
<text x="337.10" y="284.50" font-size="6.3" text-anchor="end" fill="#333" font-weight="normal" stroke="#333" stroke-width="0.05">10</text>
<line x1="341.30" y1="258.80" x2="343.70" y2="258.80" stroke="#2a2a2a" stroke-width="0.8" />
<text x="337.10" y="261.30" font-size="6.3" text-anchor="end" fill="#333" font-weight="normal" stroke="#333" stroke-width="0.05">20</text>
<line x1="341.30" y1="235.60" x2="343.70" y2="235.60" stroke="#2a2a2a" stroke-width="0.8" />
<text x="337.10" y="238.10" font-size="6.3" text-anchor="end" fill="#333" font-weight="normal" stroke="#333" stroke-width="0.05">30</text>
<line x1="341.30" y1="212.40" x2="343.70" y2="212.40" stroke="#2a2a2a" stroke-width="0.8" />
<text x="337.10" y="214.90" font-size="6.3" text-anchor="end" fill="#333" font-weight="normal" stroke="#333" stroke-width="0.05">40</text>
<line x1="341.30" y1="189.20" x2="343.70" y2="189.20" stroke="#2a2a2a" stroke-width="0.8" />
<text x="337.10" y="191.70" font-size="6.3" text-anchor="end" fill="#333" font-weight="normal" stroke="#333" stroke-width="0.05">50</text>
<line x1="366.10" y1="305.20" x2="366.10" y2="307.60" stroke="#2a2a2a" stroke-width="0.8" />
<line x1="400.10" y1="305.20" x2="400.10" y2="307.60" stroke="#2a2a2a" stroke-width="0.8" />
<rect x="355.2" y="250.22" width="22" height="54.98" fill="#7fa3c6"/>
<rect x="389.0" y="277.36" width="22" height="27.84" fill="#e8899c"/>
<path d="M366.10,224.00 V275.20 M360.10,224.00 H372.10 M360.10,275.20 H372.10" stroke="#1d4d7d" stroke-width="0.9" fill="none"/>
<path d="M400.10,261.20 V292.50 M394.10,261.20 H406.10 M394.10,292.50 H406.10" stroke="#b8143a" stroke-width="0.9" fill="none"/>
<circle cx="366.10" cy="212.10" r="1.90" fill="#184a7c" stroke="none" stroke-width="0" />
<circle cx="366.10" cy="228.90" r="1.90" fill="#184a7c" stroke="none" stroke-width="0" />
<circle cx="366.10" cy="235.50" r="1.90" fill="#184a7c" stroke="none" stroke-width="0" />
<circle cx="366.10" cy="248.30" r="1.90" fill="#184a7c" stroke="none" stroke-width="0" />
<circle cx="362.60" cy="268.50" r="1.90" fill="#184a7c" stroke="none" stroke-width="0" />
<circle cx="369.90" cy="271.70" r="1.90" fill="#184a7c" stroke="none" stroke-width="0" />
<circle cx="366.10" cy="281.50" r="1.90" fill="#184a7c" stroke="none" stroke-width="0" />
<circle cx="400.10" cy="251.80" r="1.90" fill="#c4103a" stroke="none" stroke-width="0" />
<circle cx="400.10" cy="258.50" r="1.90" fill="#c4103a" stroke="none" stroke-width="0" />
<circle cx="396.40" cy="268.50" r="1.90" fill="#c4103a" stroke="none" stroke-width="0" />
<circle cx="403.70" cy="268.50" r="1.90" fill="#c4103a" stroke="none" stroke-width="0" />
<circle cx="400.10" cy="281.50" r="1.90" fill="#c4103a" stroke="none" stroke-width="0" />
<circle cx="393.20" cy="288.40" r="1.90" fill="#c4103a" stroke="none" stroke-width="0" />
<circle cx="400.10" cy="288.40" r="1.90" fill="#c4103a" stroke="none" stroke-width="0" />
<circle cx="407.20" cy="291.50" r="1.90" fill="#c4103a" stroke="none" stroke-width="0" />
<circle cx="393.20" cy="294.60" r="1.90" fill="#c4103a" stroke="none" stroke-width="0" />
<path d="M365.7,205.5 V198.6 H400.6 V205.5" fill="none" stroke="#222" stroke-width="0.8"/>
<text x="383.00" y="198.20" font-size="5.2" text-anchor="middle" fill="#222" font-weight="normal" stroke="#222" stroke-width="0.08">*</text>
<text transform="translate(322.80,246.00) rotate(-90)" x="0" y="2.66" font-size="7.4" text-anchor="middle" fill="#1a1a1a" textLength="58.7" lengthAdjust="spacingAndGlyphs" stroke="#1a1a1a" stroke-width="0.22">Human TNFα (pg/ml)</text>
<text transform="translate(369.2,314.6) rotate(-42)" x="0" y="0" font-size="6.2" text-anchor="end" fill="#222" textLength="19.8" lengthAdjust="spacingAndGlyphs">PBMC</text>
<text transform="translate(403.0,314.4) rotate(-44)" x="0" y="0" font-size="6.2" text-anchor="end" fill="#222" textLength="41.6" lengthAdjust="spacingAndGlyphs">PBMC + ILC2</text>
<text x="134.60" y="365.20" font-size="8.5" text-anchor="middle" fill="#222" textLength="34.3" lengthAdjust="spacingAndGlyphs" stroke="#222" stroke-width="0.08">Neg. Ctrl.</text>
<text x="365.80" y="365.70" font-size="8.6" text-anchor="middle" fill="#222" textLength="18.1" lengthAdjust="spacingAndGlyphs" stroke="#222" stroke-width="0.08">Lung</text>
<text x="134.90" y="490.70" font-size="8.6" text-anchor="middle" fill="#222" textLength="16.4" lengthAdjust="spacingAndGlyphs" stroke="#222" stroke-width="0.08">Liver</text>
<rect x="40.80" y="371.00" width="79.70" height="77.40" fill="none" stroke="#8a8a8a" stroke-width="0.6"/>
<line x1="40.80" y1="371.00" x2="40.80" y2="448.40" stroke="#6a6a6a" stroke-width="0.6" />
<line x1="40.80" y1="448.40" x2="120.50" y2="448.40" stroke="#6a6a6a" stroke-width="0.6" />
<line x1="39.20" y1="447.90" x2="40.80" y2="447.90" stroke="#444" stroke-width="0.5" />
<text x="36.00" y="449.40" font-size="4.3" text-anchor="end" fill="#444" font-weight="normal" stroke="#444" stroke-width="0.1">0</text>
<line x1="40.00" y1="444.94" x2="40.80" y2="444.94" stroke="#777" stroke-width="0.35" />
<line x1="40.00" y1="441.99" x2="40.80" y2="441.99" stroke="#777" stroke-width="0.35" />
<line x1="40.00" y1="439.03" x2="40.80" y2="439.03" stroke="#777" stroke-width="0.35" />
<line x1="40.00" y1="436.08" x2="40.80" y2="436.08" stroke="#777" stroke-width="0.35" />
<line x1="39.20" y1="433.12" x2="40.80" y2="433.12" stroke="#444" stroke-width="0.5" />
<text x="36.00" y="434.62" font-size="4.3" text-anchor="end" fill="#444" font-weight="normal" stroke="#444" stroke-width="0.1">50K</text>
<line x1="40.00" y1="430.16" x2="40.80" y2="430.16" stroke="#777" stroke-width="0.35" />
<line x1="40.00" y1="427.21" x2="40.80" y2="427.21" stroke="#777" stroke-width="0.35" />
<line x1="40.00" y1="424.25" x2="40.80" y2="424.25" stroke="#777" stroke-width="0.35" />
<line x1="40.00" y1="421.30" x2="40.80" y2="421.30" stroke="#777" stroke-width="0.35" />
<line x1="39.20" y1="418.34" x2="40.80" y2="418.34" stroke="#444" stroke-width="0.5" />
<text x="36.00" y="419.84" font-size="4.3" text-anchor="end" fill="#444" font-weight="normal" stroke="#444" stroke-width="0.1">100K</text>
<line x1="40.00" y1="415.38" x2="40.80" y2="415.38" stroke="#777" stroke-width="0.35" />
<line x1="40.00" y1="412.43" x2="40.80" y2="412.43" stroke="#777" stroke-width="0.35" />
<line x1="40.00" y1="409.47" x2="40.80" y2="409.47" stroke="#777" stroke-width="0.35" />
<line x1="40.00" y1="406.52" x2="40.80" y2="406.52" stroke="#777" stroke-width="0.35" />
<line x1="39.20" y1="403.56" x2="40.80" y2="403.56" stroke="#444" stroke-width="0.5" />
<text x="36.00" y="405.06" font-size="4.3" text-anchor="end" fill="#444" font-weight="normal" stroke="#444" stroke-width="0.1">150K</text>
<line x1="40.00" y1="400.60" x2="40.80" y2="400.60" stroke="#777" stroke-width="0.35" />
<line x1="40.00" y1="397.65" x2="40.80" y2="397.65" stroke="#777" stroke-width="0.35" />
<line x1="40.00" y1="394.69" x2="40.80" y2="394.69" stroke="#777" stroke-width="0.35" />
<line x1="40.00" y1="391.74" x2="40.80" y2="391.74" stroke="#777" stroke-width="0.35" />
<line x1="39.20" y1="388.78" x2="40.80" y2="388.78" stroke="#444" stroke-width="0.5" />
<text x="36.00" y="390.28" font-size="4.3" text-anchor="end" fill="#444" font-weight="normal" stroke="#444" stroke-width="0.1">200K</text>
<line x1="40.00" y1="385.82" x2="40.80" y2="385.82" stroke="#777" stroke-width="0.35" />
<line x1="40.00" y1="382.87" x2="40.80" y2="382.87" stroke="#777" stroke-width="0.35" />
<line x1="40.00" y1="379.91" x2="40.80" y2="379.91" stroke="#777" stroke-width="0.35" />
<line x1="40.00" y1="376.96" x2="40.80" y2="376.96" stroke="#777" stroke-width="0.35" />
<line x1="39.20" y1="374.00" x2="40.80" y2="374.00" stroke="#444" stroke-width="0.5" />
<text x="36.00" y="375.50" font-size="4.3" text-anchor="end" fill="#444" font-weight="normal" stroke="#444" stroke-width="0.1">250K</text>
<line x1="41.30" y1="448.40" x2="41.30" y2="449.80" stroke="#444" stroke-width="0.5" />
<text x="41.30" y="455.00" font-size="3.9" text-anchor="middle" fill="#444" font-weight="normal" stroke="#444" stroke-width="0.1">10<tspan font-size="2.6" dy="-1.5">0</tspan></text>
<line x1="56.04" y1="448.40" x2="56.04" y2="449.80" stroke="#444" stroke-width="0.5" />
<text x="56.04" y="455.00" font-size="3.9" text-anchor="middle" fill="#444" font-weight="normal" stroke="#444" stroke-width="0.1">10<tspan font-size="2.6" dy="-1.5">1</tspan></text>
<line x1="70.78" y1="448.40" x2="70.78" y2="449.80" stroke="#444" stroke-width="0.5" />
<text x="70.78" y="455.00" font-size="3.9" text-anchor="middle" fill="#444" font-weight="normal" stroke="#444" stroke-width="0.1">10<tspan font-size="2.6" dy="-1.5">2</tspan></text>
<line x1="85.52" y1="448.40" x2="85.52" y2="449.80" stroke="#444" stroke-width="0.5" />
<text x="85.52" y="455.00" font-size="3.9" text-anchor="middle" fill="#444" font-weight="normal" stroke="#444" stroke-width="0.1">10<tspan font-size="2.6" dy="-1.5">3</tspan></text>
<line x1="100.26" y1="448.40" x2="100.26" y2="449.80" stroke="#444" stroke-width="0.5" />
<text x="100.26" y="455.00" font-size="3.9" text-anchor="middle" fill="#444" font-weight="normal" stroke="#444" stroke-width="0.1">10<tspan font-size="2.6" dy="-1.5">4</tspan></text>
<line x1="115.00" y1="448.40" x2="115.00" y2="449.80" stroke="#444" stroke-width="0.5" />
<text x="115.00" y="455.00" font-size="3.9" text-anchor="middle" fill="#444" font-weight="normal" stroke="#444" stroke-width="0.1">10<tspan font-size="2.6" dy="-1.5">5</tspan></text>
<text transform="translate(20.20,437.10) rotate(-90)" x="0" y="3.17" font-size="8.8" text-anchor="middle" fill="#1a1a1a" textLength="10.5" lengthAdjust="spacingAndGlyphs" stroke="#1a1a1a" stroke-width="0.2">SSC</text>
<line x1="20.50" y1="425.40" x2="20.50" y2="392.40" stroke="#222" stroke-width="0.65" />
<polygon points="20.50,389.60 21.80,392.40 19.20,392.40" fill="#222"/>
<text x="39.60" y="465.60" font-size="8.2" text-anchor="start" fill="#1a1a1a" textLength="14.2" lengthAdjust="spacingAndGlyphs" stroke="#1a1a1a" stroke-width="0.3">CD45</text>
<line x1="58.80" y1="463.00" x2="91.50" y2="463.00" stroke="#222" stroke-width="0.6" />
<polygon points="94.10,463.00 91.50,464.20 91.50,461.80" fill="#222"/>
<g fill="#1a1a1a"><rect x="41.00" y="426.50" width="1.99" height="0.7"/><rect x="41.00" y="427.38" width="2.38" height="0.7"/><rect x="41.00" y="428.21" width="2.24" height="0.7"/><rect x="41.00" y="429.19" width="1.67" height="0.7"/><rect x="41.00" y="430.25" width="1.64" height="0.7"/><rect x="41.00" y="431.27" width="1.68" height="0.7"/><rect x="41.00" y="432.11" width="2.11" height="0.7"/><rect x="41.00" y="433.32" width="1.75" height="0.7"/><rect x="41.00" y="434.24" width="2.35" height="0.7"/><rect x="41.00" y="435.51" width="2.29" height="0.7"/><rect x="41.00" y="436.51" width="2.77" height="0.7"/><rect x="41.00" y="437.33" width="2.63" height="0.7"/><rect x="41.00" y="438.28" width="1.77" height="0.7"/><rect x="41.00" y="439.13" width="1.97" height="0.7"/><rect x="41.00" y="440.34" width="1.82" height="0.7"/><rect x="41.00" y="441.43" width="2.37" height="0.7"/><rect x="41.00" y="442.42" width="2.26" height="0.7"/><rect x="41.00" y="443.25" width="1.67" height="0.7"/><rect x="41.00" y="444.15" width="2.42" height="0.7"/><rect x="41.00" y="445.17" width="1.98" height="0.7"/><rect x="41.00" y="446.26" width="2.14" height="0.7"/><rect x="41.00" y="447.21" width="2.55" height="0.7"/></g>
<path d="M52,444 C54,438 60,430 67,427.5 C73,425.5 77.5,429 78,436 C78.5,442 76,446 70,446.3 C63,446.6 56,446 52,444 Z" fill="#d6d6d6" stroke="#aaa" stroke-width="0.35"/>
<path d="M55,443.5 C58,438 63,431.5 68,429.5 C73,428 76,431 76.2,437 C76.2,442 73.5,444.8 68.5,445 C63,445.2 58,444.6 55,443.5 Z" fill="#c6c6c6" stroke="#999" stroke-width="0.35"/>
<path d="M59,443 C62,439 66,433.5 70,432 C73.5,431 75,434 74.8,438 C74.5,442 72,443.8 68,444 C64,444.2 61,443.8 59,443 Z" fill="#b8b8b8" stroke="#8a8a8a" stroke-width="0.35"/>
<path d="M64,442.5 C66,440 69,437.5 71.5,437.5 C73.5,437.5 73.8,440 73,441.8 C72,443.2 69.5,443.5 67,443.3 Z" fill="#a0a0a0" stroke="#777" stroke-width="0.35"/>
<path d="M56,441 L66,432 M58,443 L69,433.5 M61,444 L72,435" stroke="#aaa" stroke-width="0.3"/>
<rect x="90.4" y="418.4" width="29.0" height="29.6" fill="none" stroke="#333" stroke-width="0.7"/>
<text x="105.30" y="413.20" font-size="6.4" text-anchor="middle" fill="#333" font-weight="normal" stroke="#333" stroke-width="0.2">0.02%</text>
<rect x="151.60" y="370.80" width="78.40" height="77.40" fill="none" stroke="#8a8a8a" stroke-width="0.6"/>
<line x1="151.60" y1="370.80" x2="151.60" y2="448.20" stroke="#6a6a6a" stroke-width="0.6" />
<line x1="151.60" y1="448.20" x2="230.00" y2="448.20" stroke="#6a6a6a" stroke-width="0.6" />
<line x1="150.80" y1="443.70" x2="151.60" y2="443.70" stroke="#888" stroke-width="0.3" />
<line x1="150.80" y1="441.80" x2="151.60" y2="441.80" stroke="#888" stroke-width="0.3" />
<line x1="150.80" y1="439.90" x2="151.60" y2="439.90" stroke="#888" stroke-width="0.3" />
<line x1="150.80" y1="438.00" x2="151.60" y2="438.00" stroke="#888" stroke-width="0.3" />
<line x1="150.80" y1="436.10" x2="151.60" y2="436.10" stroke="#888" stroke-width="0.3" />
<line x1="150.80" y1="434.20" x2="151.60" y2="434.20" stroke="#888" stroke-width="0.3" />
<line x1="150.80" y1="432.30" x2="151.60" y2="432.30" stroke="#888" stroke-width="0.3" />
<line x1="150.80" y1="430.40" x2="151.60" y2="430.40" stroke="#888" stroke-width="0.3" />
<line x1="150.80" y1="428.50" x2="151.60" y2="428.50" stroke="#888" stroke-width="0.3" />
<line x1="150.80" y1="426.60" x2="151.60" y2="426.60" stroke="#888" stroke-width="0.3" />
<line x1="150.80" y1="424.70" x2="151.60" y2="424.70" stroke="#888" stroke-width="0.3" />
<line x1="150.80" y1="422.80" x2="151.60" y2="422.80" stroke="#888" stroke-width="0.3" />
<line x1="150.80" y1="420.90" x2="151.60" y2="420.90" stroke="#888" stroke-width="0.3" />
<line x1="150.80" y1="419.00" x2="151.60" y2="419.00" stroke="#888" stroke-width="0.3" />
<line x1="150.80" y1="417.10" x2="151.60" y2="417.10" stroke="#888" stroke-width="0.3" />
<line x1="150.80" y1="415.20" x2="151.60" y2="415.20" stroke="#888" stroke-width="0.3" />
<line x1="150.80" y1="413.30" x2="151.60" y2="413.30" stroke="#888" stroke-width="0.3" />
<line x1="150.80" y1="411.40" x2="151.60" y2="411.40" stroke="#888" stroke-width="0.3" />
<line x1="150.80" y1="409.50" x2="151.60" y2="409.50" stroke="#888" stroke-width="0.3" />
<line x1="150.80" y1="407.60" x2="151.60" y2="407.60" stroke="#888" stroke-width="0.3" />
<line x1="150.80" y1="405.70" x2="151.60" y2="405.70" stroke="#888" stroke-width="0.3" />
<line x1="150.80" y1="403.80" x2="151.60" y2="403.80" stroke="#888" stroke-width="0.3" />
<line x1="150.80" y1="401.90" x2="151.60" y2="401.90" stroke="#888" stroke-width="0.3" />
<line x1="150.80" y1="400.00" x2="151.60" y2="400.00" stroke="#888" stroke-width="0.3" />
<line x1="150.80" y1="398.10" x2="151.60" y2="398.10" stroke="#888" stroke-width="0.3" />
<line x1="150.80" y1="396.20" x2="151.60" y2="396.20" stroke="#888" stroke-width="0.3" />
<line x1="150.80" y1="394.30" x2="151.60" y2="394.30" stroke="#888" stroke-width="0.3" />
<line x1="150.80" y1="392.40" x2="151.60" y2="392.40" stroke="#888" stroke-width="0.3" />
<line x1="150.80" y1="390.50" x2="151.60" y2="390.50" stroke="#888" stroke-width="0.3" />
<line x1="150.80" y1="388.60" x2="151.60" y2="388.60" stroke="#888" stroke-width="0.3" />
<line x1="150.80" y1="386.70" x2="151.60" y2="386.70" stroke="#888" stroke-width="0.3" />
<line x1="150.80" y1="384.80" x2="151.60" y2="384.80" stroke="#888" stroke-width="0.3" />
<line x1="150.80" y1="382.90" x2="151.60" y2="382.90" stroke="#888" stroke-width="0.3" />
<line x1="150.80" y1="381.00" x2="151.60" y2="381.00" stroke="#888" stroke-width="0.3" />
<line x1="150.80" y1="379.10" x2="151.60" y2="379.10" stroke="#888" stroke-width="0.3" />
<line x1="150.80" y1="377.20" x2="151.60" y2="377.20" stroke="#888" stroke-width="0.3" />
<line x1="150.80" y1="375.30" x2="151.60" y2="375.30" stroke="#888" stroke-width="0.3" />
<line x1="150.80" y1="373.40" x2="151.60" y2="373.40" stroke="#888" stroke-width="0.3" />
<line x1="150.00" y1="443.70" x2="151.60" y2="443.70" stroke="#444" stroke-width="0.5" />
<text x="148.20" y="445.10" font-size="3.9" text-anchor="end" fill="#444" font-weight="normal" stroke="#444" stroke-width="0.1">0</text>
<line x1="150.00" y1="431.20" x2="151.60" y2="431.20" stroke="#444" stroke-width="0.5" />
<text x="148.20" y="432.60" font-size="3.9" text-anchor="end" fill="#444" font-weight="normal" stroke="#444" stroke-width="0.1">10<tspan font-size="2.6" dy="-1.5">2</tspan></text>
<line x1="150.00" y1="413.80" x2="151.60" y2="413.80" stroke="#444" stroke-width="0.5" />
<text x="148.20" y="415.20" font-size="3.9" text-anchor="end" fill="#444" font-weight="normal" stroke="#444" stroke-width="0.1">10<tspan font-size="2.6" dy="-1.5">3</tspan></text>
<line x1="150.00" y1="395.60" x2="151.60" y2="395.60" stroke="#444" stroke-width="0.5" />
<text x="148.20" y="397.00" font-size="3.9" text-anchor="end" fill="#444" font-weight="normal" stroke="#444" stroke-width="0.1">10<tspan font-size="2.6" dy="-1.5">4</tspan></text>
<line x1="150.00" y1="377.60" x2="151.60" y2="377.60" stroke="#444" stroke-width="0.5" />
<text x="148.20" y="379.00" font-size="3.9" text-anchor="end" fill="#444" font-weight="normal" stroke="#444" stroke-width="0.1">10<tspan font-size="2.6" dy="-1.5">5</tspan></text>
<line x1="156.90" y1="448.20" x2="156.90" y2="449.60" stroke="#444" stroke-width="0.5" />
<text x="156.90" y="454.80" font-size="3.9" text-anchor="middle" fill="#444" font-weight="normal" stroke="#444" stroke-width="0.1">0</text>
<line x1="169.90" y1="448.20" x2="169.90" y2="449.60" stroke="#444" stroke-width="0.5" />
<text x="169.90" y="454.80" font-size="3.9" text-anchor="middle" fill="#444" font-weight="normal" stroke="#444" stroke-width="0.1">10<tspan font-size="2.6" dy="-1.5">2</tspan></text>
<line x1="186.10" y1="448.20" x2="186.10" y2="449.60" stroke="#444" stroke-width="0.5" />
<text x="186.10" y="454.80" font-size="3.9" text-anchor="middle" fill="#444" font-weight="normal" stroke="#444" stroke-width="0.1">10<tspan font-size="2.6" dy="-1.5">3</tspan></text>
<line x1="204.90" y1="448.20" x2="204.90" y2="449.60" stroke="#444" stroke-width="0.5" />
<text x="204.90" y="454.80" font-size="3.9" text-anchor="middle" fill="#444" font-weight="normal" stroke="#444" stroke-width="0.1">10<tspan font-size="2.6" dy="-1.5">4</tspan></text>
<line x1="222.40" y1="448.20" x2="222.40" y2="449.60" stroke="#444" stroke-width="0.5" />
<text x="222.40" y="454.80" font-size="3.9" text-anchor="middle" fill="#444" font-weight="normal" stroke="#444" stroke-width="0.1">10<tspan font-size="2.6" dy="-1.5">5</tspan></text>
<text transform="translate(134.30,436.60) rotate(-90)" x="0" y="3.10" font-size="8.6" text-anchor="middle" fill="#1a1a1a" textLength="7.2" lengthAdjust="spacingAndGlyphs" stroke="#1a1a1a" stroke-width="0.3">Lin</text>
<line x1="134.50" y1="425.20" x2="134.50" y2="392.20" stroke="#222" stroke-width="0.65" />
<polygon points="134.50,389.40 135.80,392.20 133.20,392.20" fill="#222"/>
<text x="153.60" y="465.40" font-size="8.2" text-anchor="start" fill="#1a1a1a" textLength="16.3" lengthAdjust="spacingAndGlyphs" stroke="#1a1a1a" stroke-width="0.3">CD161</text>
<line x1="174.40" y1="462.80" x2="206.80" y2="462.80" stroke="#222" stroke-width="0.6" />
<polygon points="209.40,462.80 206.80,464.00 206.80,461.60" fill="#222"/>
<g fill="#888"><circle cx="172.27" cy="441.49" r="0.28"/><circle cx="160.92" cy="430.91" r="0.28"/><circle cx="171.42" cy="427.69" r="0.28"/><circle cx="174.74" cy="432.60" r="0.28"/><circle cx="163.94" cy="438.38" r="0.28"/><circle cx="175.68" cy="439.15" r="0.28"/><circle cx="179.92" cy="435.35" r="0.28"/><circle cx="172.66" cy="424.56" r="0.28"/><circle cx="175.38" cy="429.02" r="0.28"/><circle cx="169.51" cy="424.78" r="0.28"/><circle cx="166.68" cy="429.55" r="0.28"/><circle cx="179.09" cy="419.79" r="0.28"/><circle cx="163.98" cy="434.56" r="0.28"/><circle cx="179.94" cy="436.76" r="0.28"/><circle cx="161.55" cy="416.63" r="0.28"/><circle cx="173.97" cy="428.21" r="0.28"/><circle cx="165.84" cy="439.35" r="0.28"/><circle cx="178.06" cy="434.02" r="0.28"/><circle cx="173.35" cy="435.82" r="0.28"/><circle cx="180.77" cy="437.02" r="0.28"/><circle cx="174.85" cy="436.56" r="0.28"/><circle cx="163.37" cy="441.33" r="0.28"/><circle cx="177.25" cy="436.44" r="0.28"/><circle cx="161.14" cy="428.88" r="0.28"/><circle cx="176.63" cy="421.23" r="0.28"/><circle cx="170.99" cy="439.63" r="0.28"/><circle cx="164.79" cy="443.47" r="0.28"/><circle cx="175.04" cy="432.02" r="0.28"/><circle cx="173.79" cy="437.22" r="0.28"/><circle cx="172.66" cy="440.45" r="0.28"/><circle cx="168.36" cy="430.30" r="0.28"/><circle cx="177.73" cy="433.17" r="0.28"/><circle cx="167.16" cy="439.15" r="0.28"/><circle cx="180.06" cy="430.11" r="0.28"/><circle cx="164.41" cy="432.12" r="0.28"/><circle cx="171.18" cy="431.06" r="0.28"/><circle cx="179.73" cy="426.32" r="0.28"/><circle cx="178.93" cy="424.76" r="0.28"/><circle cx="167.67" cy="437.10" r="0.28"/><circle cx="178.21" cy="438.58" r="0.28"/><circle cx="173.90" cy="433.93" r="0.28"/><circle cx="172.84" cy="436.74" r="0.28"/><circle cx="171.03" cy="434.80" r="0.28"/><circle cx="175.15" cy="433.01" r="0.28"/><circle cx="176.20" cy="436.68" r="0.28"/><circle cx="183.06" cy="435.11" r="0.28"/><circle cx="169.65" cy="430.58" r="0.28"/><circle cx="171.93" cy="439.00" r="0.28"/><circle cx="170.15" cy="435.51" r="0.28"/><circle cx="182.11" cy="416.33" r="0.28"/><circle cx="165.82" cy="434.59" r="0.28"/><circle cx="174.19" cy="434.55" r="0.28"/><circle cx="169.63" cy="437.26" r="0.28"/><circle cx="173.55" cy="429.61" r="0.28"/><circle cx="185.37" cy="435.31" r="0.28"/><circle cx="168.95" cy="432.35" r="0.28"/><circle cx="170.76" cy="432.59" r="0.28"/><circle cx="157.00" cy="429.84" r="0.28"/><circle cx="177.55" cy="425.40" r="0.28"/><circle cx="171.63" cy="439.20" r="0.28"/><circle cx="176.71" cy="442.69" r="0.28"/><circle cx="162.64" cy="430.70" r="0.28"/><circle cx="170.12" cy="437.05" r="0.28"/><circle cx="178.00" cy="415.56" r="0.28"/><circle cx="177.99" cy="423.59" r="0.28"/><circle cx="175.76" cy="423.30" r="0.28"/><circle cx="172.97" cy="440.77" r="0.28"/><circle cx="171.18" cy="434.24" r="0.28"/><circle cx="176.38" cy="433.92" r="0.28"/><circle cx="171.51" cy="442.97" r="0.28"/><circle cx="177.77" cy="431.09" r="0.28"/><circle cx="187.10" cy="425.55" r="0.28"/><circle cx="177.03" cy="431.27" r="0.28"/><circle cx="172.73" cy="437.58" r="0.28"/><circle cx="173.22" cy="437.15" r="0.28"/><circle cx="163.60" cy="423.19" r="0.28"/><circle cx="175.38" cy="426.74" r="0.28"/><circle cx="166.35" cy="423.44" r="0.28"/><circle cx="178.97" cy="437.85" r="0.28"/><circle cx="180.10" cy="426.90" r="0.28"/><circle cx="172.01" cy="425.59" r="0.28"/><circle cx="176.21" cy="443.33" r="0.28"/><circle cx="167.10" cy="443.14" r="0.28"/><circle cx="177.43" cy="431.84" r="0.28"/><circle cx="161.15" cy="442.14" r="0.28"/><circle cx="171.47" cy="429.08" r="0.28"/><circle cx="174.20" cy="435.66" r="0.28"/><circle cx="180.24" cy="426.37" r="0.28"/><circle cx="178.25" cy="442.67" r="0.28"/><circle cx="179.99" cy="431.83" r="0.28"/><circle cx="167.91" cy="439.62" r="0.28"/><circle cx="172.63" cy="433.81" r="0.28"/><circle cx="179.83" cy="431.29" r="0.28"/><circle cx="159.37" cy="430.48" r="0.28"/><circle cx="161.80" cy="438.32" r="0.28"/><circle cx="173.74" cy="429.03" r="0.28"/><circle cx="171.95" cy="438.41" r="0.28"/><circle cx="172.43" cy="441.62" r="0.28"/><circle cx="171.66" cy="439.76" r="0.28"/><circle cx="180.20" cy="443.46" r="0.28"/><circle cx="168.30" cy="438.72" r="0.28"/><circle cx="161.68" cy="425.96" r="0.28"/><circle cx="161.20" cy="439.95" r="0.28"/><circle cx="165.22" cy="432.92" r="0.28"/><circle cx="170.94" cy="432.81" r="0.28"/><circle cx="168.75" cy="434.52" r="0.28"/><circle cx="181.85" cy="433.29" r="0.28"/><circle cx="174.92" cy="439.50" r="0.28"/><circle cx="170.91" cy="424.81" r="0.28"/><circle cx="168.95" cy="439.98" r="0.28"/><circle cx="162.95" cy="429.11" r="0.28"/><circle cx="177.54" cy="438.15" r="0.28"/><circle cx="172.04" cy="438.23" r="0.28"/><circle cx="172.91" cy="425.34" r="0.28"/><circle cx="163.40" cy="428.85" r="0.28"/><circle cx="177.08" cy="429.32" r="0.28"/><circle cx="167.04" cy="427.99" r="0.28"/><circle cx="163.58" cy="432.24" r="0.28"/><circle cx="165.51" cy="435.37" r="0.28"/><circle cx="159.02" cy="435.13" r="0.28"/><circle cx="168.47" cy="420.38" r="0.28"/><circle cx="175.99" cy="431.21" r="0.28"/><circle cx="159.73" cy="427.31" r="0.28"/><circle cx="173.60" cy="430.02" r="0.28"/><circle cx="176.29" cy="437.86" r="0.28"/><circle cx="175.66" cy="435.12" r="0.28"/><circle cx="179.34" cy="437.29" r="0.28"/><circle cx="174.48" cy="419.45" r="0.28"/><circle cx="176.93" cy="441.51" r="0.28"/><circle cx="170.37" cy="429.95" r="0.28"/><circle cx="182.67" cy="421.57" r="0.28"/><circle cx="174.58" cy="448.75" r="0.28"/><circle cx="166.90" cy="437.48" r="0.28"/><circle cx="182.38" cy="432.22" r="0.28"/><circle cx="175.09" cy="438.87" r="0.28"/><circle cx="167.02" cy="432.42" r="0.28"/><circle cx="173.61" cy="438.37" r="0.28"/><circle cx="171.81" cy="431.73" r="0.28"/><circle cx="166.41" cy="430.67" r="0.28"/><circle cx="176.90" cy="433.66" r="0.28"/><circle cx="167.31" cy="427.53" r="0.28"/><circle cx="186.67" cy="440.41" r="0.28"/><circle cx="175.51" cy="416.15" r="0.28"/><circle cx="175.42" cy="436.12" r="0.28"/><circle cx="181.26" cy="435.78" r="0.28"/><circle cx="171.63" cy="436.40" r="0.28"/><circle cx="161.31" cy="439.72" r="0.28"/><circle cx="173.79" cy="428.44" r="0.28"/><circle cx="179.29" cy="444.76" r="0.28"/><circle cx="164.29" cy="428.67" r="0.28"/><circle cx="173.60" cy="434.19" r="0.28"/><circle cx="169.81" cy="426.67" r="0.28"/><circle cx="183.66" cy="439.74" r="0.28"/><circle cx="165.43" cy="424.26" r="0.28"/><circle cx="181.37" cy="439.43" r="0.28"/><circle cx="182.02" cy="438.27" r="0.28"/><circle cx="167.20" cy="434.69" r="0.28"/><circle cx="160.12" cy="428.14" r="0.28"/><circle cx="171.68" cy="436.40" r="0.28"/><circle cx="168.00" cy="432.19" r="0.28"/><circle cx="174.52" cy="435.45" r="0.28"/><circle cx="175.51" cy="434.36" r="0.28"/><circle cx="170.22" cy="438.13" r="0.28"/><circle cx="172.27" cy="427.63" r="0.28"/><circle cx="168.56" cy="433.00" r="0.28"/><circle cx="171.40" cy="434.02" r="0.28"/><circle cx="172.00" cy="434.14" r="0.28"/><circle cx="171.26" cy="424.82" r="0.28"/><circle cx="174.32" cy="439.85" r="0.28"/><circle cx="174.39" cy="431.77" r="0.28"/><circle cx="174.46" cy="426.72" r="0.28"/><circle cx="161.57" cy="433.39" r="0.28"/><circle cx="166.88" cy="437.81" r="0.28"/><circle cx="166.04" cy="415.91" r="0.28"/><circle cx="166.28" cy="443.26" r="0.28"/><circle cx="169.90" cy="424.10" r="0.28"/><circle cx="167.80" cy="436.39" r="0.28"/><circle cx="174.73" cy="434.15" r="0.28"/><circle cx="180.16" cy="437.59" r="0.28"/><circle cx="171.88" cy="436.88" r="0.28"/><circle cx="181.10" cy="439.31" r="0.28"/><circle cx="177.63" cy="425.96" r="0.28"/><circle cx="171.18" cy="437.74" r="0.28"/><circle cx="170.37" cy="439.95" r="0.28"/><circle cx="175.28" cy="438.90" r="0.28"/><circle cx="170.83" cy="449.55" r="0.28"/><circle cx="178.82" cy="431.60" r="0.28"/><circle cx="172.50" cy="449.87" r="0.28"/><circle cx="170.11" cy="438.68" r="0.28"/><circle cx="177.39" cy="433.04" r="0.28"/><circle cx="165.58" cy="434.22" r="0.28"/><circle cx="173.98" cy="440.34" r="0.28"/><circle cx="176.31" cy="433.16" r="0.28"/><circle cx="176.69" cy="436.51" r="0.28"/><circle cx="173.13" cy="433.36" r="0.28"/><circle cx="170.66" cy="437.46" r="0.28"/><circle cx="166.20" cy="428.91" r="0.28"/><circle cx="172.03" cy="423.48" r="0.28"/><circle cx="169.60" cy="419.94" r="0.28"/><circle cx="168.24" cy="436.69" r="0.28"/></g>
<g transform="translate(168.50,429.00) rotate(-45)"><ellipse cx="0" cy="0" rx="10.00" ry="8.00" fill="url(#gC)" fill-opacity="0.0"/><ellipse cx="-0.00" cy="0.00" rx="10.00" ry="8.00" fill="none" stroke="#999" stroke-width="0.3"/><ellipse cx="-0.20" cy="0.11" rx="6.67" ry="5.33" fill="none" stroke="#999" stroke-width="0.3"/><ellipse cx="-0.40" cy="0.21" rx="3.33" ry="2.67" fill="none" stroke="#999" stroke-width="0.3"/></g>
<g transform="translate(175.00,421.00) rotate(-50)"><ellipse cx="0" cy="0" rx="14.00" ry="7.50" fill="url(#gC)" fill-opacity="0.55"/><ellipse cx="-0.00" cy="0.00" rx="14.00" ry="7.50" fill="none" stroke="#bbb" stroke-width="0.25"/><ellipse cx="-0.28" cy="0.10" rx="9.33" ry="5.00" fill="none" stroke="#bbb" stroke-width="0.25"/><ellipse cx="-0.56" cy="0.20" rx="4.67" ry="2.50" fill="none" stroke="#bbb" stroke-width="0.25"/></g>
<g transform="translate(176.80,418.30) rotate(-50)"><ellipse cx="0" cy="0" rx="9.50" ry="5.20" fill="url(#gK)" fill-opacity="0.95"/><ellipse cx="-0.00" cy="0.00" rx="9.50" ry="5.20" fill="none" stroke="#444" stroke-width="0.2"/><ellipse cx="-0.11" cy="0.04" rx="7.60" ry="4.16" fill="none" stroke="#444" stroke-width="0.2"/><ellipse cx="-0.23" cy="0.08" rx="5.70" ry="3.12" fill="none" stroke="#444" stroke-width="0.2"/><ellipse cx="-0.34" cy="0.12" rx="3.80" ry="2.08" fill="none" stroke="#444" stroke-width="0.2"/><ellipse cx="-0.46" cy="0.17" rx="1.90" ry="1.04" fill="none" stroke="#444" stroke-width="0.2"/><ellipse cx="0" cy="0" rx="0.85" ry="0.42" fill="#fff" fill-opacity="0.9"/></g>
<rect x="153.8" y="447.9" width="4.4" height="2.0" fill="#222"/>
<path d="M178.0,445.3 V425.8 L191.3,412.4 H226.3 V445.3 Z" fill="none" stroke="#333" stroke-width="0.7"/>
<text x="205.60" y="439.80" font-size="6.4" text-anchor="middle" fill="#333" font-weight="normal" stroke="#333" stroke-width="0.2">0.27%</text>
<line x1="110.00" y1="444.60" x2="160.80" y2="444.60" stroke="#5c8fd0" stroke-width="0.9" />
<rect x="272.00" y="370.80" width="79.20" height="77.40" fill="none" stroke="#8a8a8a" stroke-width="0.6"/>
<line x1="272.00" y1="370.80" x2="272.00" y2="448.20" stroke="#6a6a6a" stroke-width="0.6" />
<line x1="272.00" y1="448.20" x2="351.20" y2="448.20" stroke="#6a6a6a" stroke-width="0.6" />
<line x1="270.40" y1="447.70" x2="272.00" y2="447.70" stroke="#444" stroke-width="0.5" />
<text x="267.20" y="449.20" font-size="4.3" text-anchor="end" fill="#444" font-weight="normal" stroke="#444" stroke-width="0.1">0</text>
<line x1="271.20" y1="444.74" x2="272.00" y2="444.74" stroke="#777" stroke-width="0.35" />
<line x1="271.20" y1="441.79" x2="272.00" y2="441.79" stroke="#777" stroke-width="0.35" />
<line x1="271.20" y1="438.83" x2="272.00" y2="438.83" stroke="#777" stroke-width="0.35" />
<line x1="271.20" y1="435.88" x2="272.00" y2="435.88" stroke="#777" stroke-width="0.35" />
<line x1="270.40" y1="432.92" x2="272.00" y2="432.92" stroke="#444" stroke-width="0.5" />
<text x="267.20" y="434.42" font-size="4.3" text-anchor="end" fill="#444" font-weight="normal" stroke="#444" stroke-width="0.1">50K</text>
<line x1="271.20" y1="429.96" x2="272.00" y2="429.96" stroke="#777" stroke-width="0.35" />
<line x1="271.20" y1="427.01" x2="272.00" y2="427.01" stroke="#777" stroke-width="0.35" />
<line x1="271.20" y1="424.05" x2="272.00" y2="424.05" stroke="#777" stroke-width="0.35" />
<line x1="271.20" y1="421.10" x2="272.00" y2="421.10" stroke="#777" stroke-width="0.35" />
<line x1="270.40" y1="418.14" x2="272.00" y2="418.14" stroke="#444" stroke-width="0.5" />
<text x="267.20" y="419.64" font-size="4.3" text-anchor="end" fill="#444" font-weight="normal" stroke="#444" stroke-width="0.1">100K</text>
<line x1="271.20" y1="415.18" x2="272.00" y2="415.18" stroke="#777" stroke-width="0.35" />
<line x1="271.20" y1="412.23" x2="272.00" y2="412.23" stroke="#777" stroke-width="0.35" />
<line x1="271.20" y1="409.27" x2="272.00" y2="409.27" stroke="#777" stroke-width="0.35" />
<line x1="271.20" y1="406.32" x2="272.00" y2="406.32" stroke="#777" stroke-width="0.35" />
<line x1="270.40" y1="403.36" x2="272.00" y2="403.36" stroke="#444" stroke-width="0.5" />
<text x="267.20" y="404.86" font-size="4.3" text-anchor="end" fill="#444" font-weight="normal" stroke="#444" stroke-width="0.1">150K</text>
<line x1="271.20" y1="400.40" x2="272.00" y2="400.40" stroke="#777" stroke-width="0.35" />
<line x1="271.20" y1="397.45" x2="272.00" y2="397.45" stroke="#777" stroke-width="0.35" />
<line x1="271.20" y1="394.49" x2="272.00" y2="394.49" stroke="#777" stroke-width="0.35" />
<line x1="271.20" y1="391.54" x2="272.00" y2="391.54" stroke="#777" stroke-width="0.35" />
<line x1="270.40" y1="388.58" x2="272.00" y2="388.58" stroke="#444" stroke-width="0.5" />
<text x="267.20" y="390.08" font-size="4.3" text-anchor="end" fill="#444" font-weight="normal" stroke="#444" stroke-width="0.1">200K</text>
<line x1="271.20" y1="385.62" x2="272.00" y2="385.62" stroke="#777" stroke-width="0.35" />
<line x1="271.20" y1="382.67" x2="272.00" y2="382.67" stroke="#777" stroke-width="0.35" />
<line x1="271.20" y1="379.71" x2="272.00" y2="379.71" stroke="#777" stroke-width="0.35" />
<line x1="271.20" y1="376.76" x2="272.00" y2="376.76" stroke="#777" stroke-width="0.35" />
<line x1="270.40" y1="373.80" x2="272.00" y2="373.80" stroke="#444" stroke-width="0.5" />
<text x="267.20" y="375.30" font-size="4.3" text-anchor="end" fill="#444" font-weight="normal" stroke="#444" stroke-width="0.1">250K</text>
<line x1="272.50" y1="448.20" x2="272.50" y2="449.60" stroke="#444" stroke-width="0.5" />
<text x="272.50" y="454.80" font-size="3.9" text-anchor="middle" fill="#444" font-weight="normal" stroke="#444" stroke-width="0.1">10<tspan font-size="2.6" dy="-1.5">0</tspan></text>
<line x1="287.14" y1="448.20" x2="287.14" y2="449.60" stroke="#444" stroke-width="0.5" />
<text x="287.14" y="454.80" font-size="3.9" text-anchor="middle" fill="#444" font-weight="normal" stroke="#444" stroke-width="0.1">10<tspan font-size="2.6" dy="-1.5">1</tspan></text>
<line x1="301.78" y1="448.20" x2="301.78" y2="449.60" stroke="#444" stroke-width="0.5" />
<text x="301.78" y="454.80" font-size="3.9" text-anchor="middle" fill="#444" font-weight="normal" stroke="#444" stroke-width="0.1">10<tspan font-size="2.6" dy="-1.5">2</tspan></text>
<line x1="316.42" y1="448.20" x2="316.42" y2="449.60" stroke="#444" stroke-width="0.5" />
<text x="316.42" y="454.80" font-size="3.9" text-anchor="middle" fill="#444" font-weight="normal" stroke="#444" stroke-width="0.1">10<tspan font-size="2.6" dy="-1.5">3</tspan></text>
<line x1="331.06" y1="448.20" x2="331.06" y2="449.60" stroke="#444" stroke-width="0.5" />
<text x="331.06" y="454.80" font-size="3.9" text-anchor="middle" fill="#444" font-weight="normal" stroke="#444" stroke-width="0.1">10<tspan font-size="2.6" dy="-1.5">4</tspan></text>
<line x1="345.70" y1="448.20" x2="345.70" y2="449.60" stroke="#444" stroke-width="0.5" />
<text x="345.70" y="454.80" font-size="3.9" text-anchor="middle" fill="#444" font-weight="normal" stroke="#444" stroke-width="0.1">10<tspan font-size="2.6" dy="-1.5">5</tspan></text>
<text transform="translate(251.20,436.90) rotate(-90)" x="0" y="3.17" font-size="8.8" text-anchor="middle" fill="#1a1a1a" textLength="10.5" lengthAdjust="spacingAndGlyphs" stroke="#1a1a1a" stroke-width="0.2">SSC</text>
<line x1="251.50" y1="425.20" x2="251.50" y2="392.20" stroke="#222" stroke-width="0.65" />
<polygon points="251.50,389.40 252.80,392.20 250.20,392.20" fill="#222"/>
<text x="270.80" y="465.40" font-size="8.2" text-anchor="start" fill="#1a1a1a" textLength="14.2" lengthAdjust="spacingAndGlyphs" stroke="#1a1a1a" stroke-width="0.3">CD45</text>
<line x1="290.00" y1="462.80" x2="322.70" y2="462.80" stroke="#222" stroke-width="0.6" />
<polygon points="325.30,462.80 322.70,464.00 322.70,461.60" fill="#222"/>
<g fill="#777"><circle cx="315.36" cy="427.51" r="0.28"/><circle cx="304.41" cy="439.12" r="0.28"/><circle cx="275.84" cy="443.63" r="0.28"/><circle cx="311.46" cy="438.74" r="0.28"/><circle cx="304.82" cy="443.09" r="0.28"/><circle cx="279.85" cy="436.31" r="0.28"/><circle cx="295.18" cy="443.62" r="0.28"/><circle cx="307.80" cy="443.42" r="0.28"/><circle cx="298.53" cy="444.98" r="0.28"/><circle cx="302.68" cy="440.29" r="0.28"/><circle cx="283.66" cy="424.73" r="0.28"/><circle cx="279.59" cy="432.48" r="0.28"/><circle cx="278.41" cy="443.64" r="0.28"/><circle cx="297.46" cy="438.75" r="0.28"/><circle cx="300.30" cy="440.00" r="0.28"/><circle cx="294.55" cy="424.08" r="0.28"/><circle cx="307.50" cy="441.58" r="0.28"/><circle cx="295.12" cy="436.58" r="0.28"/><circle cx="301.69" cy="425.55" r="0.28"/><circle cx="304.95" cy="429.93" r="0.28"/><circle cx="277.13" cy="430.24" r="0.28"/><circle cx="304.63" cy="428.82" r="0.28"/><circle cx="305.07" cy="446.93" r="0.28"/><circle cx="294.75" cy="432.99" r="0.28"/><circle cx="294.12" cy="440.07" r="0.28"/><circle cx="306.21" cy="438.50" r="0.28"/><circle cx="301.00" cy="425.82" r="0.28"/><circle cx="280.19" cy="429.97" r="0.28"/><circle cx="305.22" cy="431.15" r="0.28"/><circle cx="297.85" cy="424.29" r="0.28"/><circle cx="276.55" cy="430.32" r="0.28"/><circle cx="302.22" cy="440.27" r="0.28"/><circle cx="302.38" cy="430.84" r="0.28"/><circle cx="295.69" cy="434.92" r="0.28"/><circle cx="293.59" cy="426.78" r="0.28"/><circle cx="311.53" cy="428.68" r="0.28"/><circle cx="315.08" cy="446.00" r="0.28"/><circle cx="274.74" cy="434.79" r="0.28"/><circle cx="308.44" cy="446.75" r="0.28"/><circle cx="292.88" cy="430.31" r="0.28"/><circle cx="282.81" cy="446.22" r="0.28"/><circle cx="282.85" cy="437.66" r="0.28"/><circle cx="279.95" cy="436.32" r="0.28"/><circle cx="314.02" cy="427.12" r="0.28"/><circle cx="308.45" cy="435.96" r="0.28"/><circle cx="311.25" cy="440.53" r="0.28"/><circle cx="283.72" cy="445.10" r="0.28"/><circle cx="294.42" cy="424.58" r="0.28"/><circle cx="274.15" cy="435.55" r="0.28"/><circle cx="292.93" cy="431.10" r="0.28"/><circle cx="279.91" cy="432.08" r="0.28"/><circle cx="287.28" cy="443.75" r="0.28"/><circle cx="274.07" cy="441.64" r="0.28"/><circle cx="309.24" cy="426.82" r="0.28"/><circle cx="312.91" cy="440.76" r="0.28"/><circle cx="311.87" cy="430.81" r="0.28"/><circle cx="289.63" cy="433.23" r="0.28"/><circle cx="315.95" cy="437.85" r="0.28"/><circle cx="289.15" cy="434.06" r="0.28"/><circle cx="285.56" cy="425.13" r="0.28"/><circle cx="278.27" cy="443.61" r="0.28"/><circle cx="286.00" cy="445.99" r="0.28"/><circle cx="284.47" cy="430.24" r="0.28"/><circle cx="295.46" cy="428.46" r="0.28"/><circle cx="289.68" cy="446.47" r="0.28"/><circle cx="311.14" cy="443.08" r="0.28"/><circle cx="300.50" cy="445.47" r="0.28"/><circle cx="313.51" cy="436.91" r="0.28"/><circle cx="304.22" cy="425.16" r="0.28"/><circle cx="304.76" cy="434.60" r="0.28"/><circle cx="305.61" cy="439.15" r="0.28"/><circle cx="286.02" cy="425.15" r="0.28"/><circle cx="312.92" cy="426.99" r="0.28"/><circle cx="293.83" cy="432.08" r="0.28"/><circle cx="286.51" cy="441.37" r="0.28"/><circle cx="315.00" cy="430.11" r="0.28"/><circle cx="301.55" cy="431.07" r="0.28"/><circle cx="297.41" cy="433.27" r="0.28"/><circle cx="281.03" cy="427.80" r="0.28"/><circle cx="282.73" cy="445.29" r="0.28"/><circle cx="294.88" cy="429.17" r="0.28"/><circle cx="312.06" cy="447.42" r="0.28"/><circle cx="292.90" cy="427.28" r="0.28"/><circle cx="282.08" cy="426.13" r="0.28"/><circle cx="288.36" cy="426.14" r="0.28"/><circle cx="284.04" cy="430.07" r="0.28"/><circle cx="297.92" cy="444.85" r="0.28"/><circle cx="305.49" cy="433.70" r="0.28"/><circle cx="291.38" cy="436.32" r="0.28"/><circle cx="289.83" cy="431.95" r="0.28"/><circle cx="276.61" cy="430.52" r="0.28"/><circle cx="314.64" cy="426.96" r="0.28"/><circle cx="295.14" cy="438.80" r="0.28"/><circle cx="310.24" cy="429.08" r="0.28"/><circle cx="285.38" cy="429.84" r="0.28"/><circle cx="290.79" cy="434.48" r="0.28"/><circle cx="314.07" cy="443.94" r="0.28"/><circle cx="310.66" cy="424.51" r="0.28"/><circle cx="275.35" cy="440.67" r="0.28"/><circle cx="311.62" cy="435.12" r="0.28"/><circle cx="298.66" cy="424.00" r="0.28"/><circle cx="290.44" cy="445.78" r="0.28"/><circle cx="308.67" cy="444.10" r="0.28"/><circle cx="314.83" cy="429.84" r="0.28"/><circle cx="278.58" cy="427.63" r="0.28"/><circle cx="295.94" cy="440.03" r="0.28"/><circle cx="313.54" cy="440.96" r="0.28"/><circle cx="301.19" cy="441.97" r="0.28"/><circle cx="293.21" cy="436.96" r="0.28"/><circle cx="275.66" cy="442.38" r="0.28"/><circle cx="283.77" cy="445.62" r="0.28"/><circle cx="301.11" cy="431.14" r="0.28"/><circle cx="279.37" cy="429.92" r="0.28"/><circle cx="300.72" cy="440.42" r="0.28"/><circle cx="278.71" cy="425.65" r="0.28"/><circle cx="296.03" cy="437.70" r="0.28"/><circle cx="290.30" cy="429.25" r="0.28"/><circle cx="299.24" cy="424.25" r="0.28"/><circle cx="286.66" cy="434.83" r="0.28"/><circle cx="314.28" cy="439.15" r="0.28"/><circle cx="311.12" cy="435.17" r="0.28"/><circle cx="283.86" cy="429.81" r="0.28"/><circle cx="314.35" cy="440.56" r="0.28"/><circle cx="286.91" cy="424.51" r="0.28"/><circle cx="294.93" cy="439.85" r="0.28"/><circle cx="291.64" cy="430.05" r="0.28"/><circle cx="302.03" cy="445.74" r="0.28"/><circle cx="283.53" cy="424.80" r="0.28"/><circle cx="288.20" cy="433.88" r="0.28"/><circle cx="302.67" cy="428.65" r="0.28"/><circle cx="307.48" cy="441.37" r="0.28"/><circle cx="295.20" cy="428.82" r="0.28"/><circle cx="314.73" cy="431.33" r="0.28"/><circle cx="308.44" cy="429.42" r="0.28"/><circle cx="283.30" cy="441.87" r="0.28"/><circle cx="286.39" cy="446.37" r="0.28"/><circle cx="294.82" cy="428.40" r="0.28"/><circle cx="283.38" cy="433.80" r="0.28"/><circle cx="301.94" cy="446.30" r="0.28"/><circle cx="280.15" cy="433.25" r="0.28"/><circle cx="282.94" cy="446.89" r="0.28"/><circle cx="279.96" cy="425.22" r="0.28"/><circle cx="276.53" cy="433.24" r="0.28"/><circle cx="311.72" cy="444.76" r="0.28"/><circle cx="304.77" cy="447.44" r="0.28"/><circle cx="313.13" cy="431.74" r="0.28"/><circle cx="281.79" cy="445.99" r="0.28"/><circle cx="305.34" cy="424.75" r="0.28"/><circle cx="301.91" cy="432.90" r="0.28"/><circle cx="289.70" cy="431.79" r="0.28"/><circle cx="281.11" cy="424.07" r="0.28"/><circle cx="285.75" cy="432.26" r="0.28"/><circle cx="314.13" cy="426.91" r="0.28"/><circle cx="314.50" cy="428.87" r="0.28"/><circle cx="288.98" cy="443.31" r="0.28"/><circle cx="308.52" cy="434.16" r="0.28"/><circle cx="276.07" cy="435.13" r="0.28"/><circle cx="289.65" cy="445.61" r="0.28"/><circle cx="282.11" cy="432.56" r="0.28"/><circle cx="311.67" cy="424.71" r="0.28"/><circle cx="291.25" cy="443.08" r="0.28"/><circle cx="306.20" cy="424.96" r="0.28"/><circle cx="275.46" cy="425.47" r="0.28"/><circle cx="312.64" cy="430.04" r="0.28"/><circle cx="305.39" cy="445.12" r="0.28"/><circle cx="288.24" cy="430.40" r="0.28"/><circle cx="314.22" cy="438.50" r="0.28"/><circle cx="285.01" cy="440.84" r="0.28"/><circle cx="287.29" cy="430.48" r="0.28"/><circle cx="274.16" cy="441.76" r="0.28"/><circle cx="312.49" cy="438.90" r="0.28"/><circle cx="313.62" cy="424.57" r="0.28"/><circle cx="283.82" cy="435.17" r="0.28"/><circle cx="314.18" cy="446.42" r="0.28"/><circle cx="290.23" cy="429.90" r="0.28"/><circle cx="292.06" cy="435.60" r="0.28"/><circle cx="312.98" cy="428.30" r="0.28"/><circle cx="307.71" cy="441.35" r="0.28"/><circle cx="308.56" cy="442.16" r="0.28"/><circle cx="299.50" cy="431.70" r="0.28"/><circle cx="287.42" cy="432.50" r="0.28"/><circle cx="306.85" cy="425.86" r="0.28"/><circle cx="282.29" cy="441.69" r="0.28"/><circle cx="284.39" cy="425.52" r="0.28"/><circle cx="275.42" cy="436.99" r="0.28"/><circle cx="287.68" cy="447.04" r="0.28"/><circle cx="311.11" cy="447.21" r="0.28"/><circle cx="285.13" cy="425.98" r="0.28"/><circle cx="278.05" cy="435.71" r="0.28"/><circle cx="303.81" cy="434.50" r="0.28"/><circle cx="283.84" cy="433.80" r="0.28"/><circle cx="300.05" cy="439.84" r="0.28"/><circle cx="305.42" cy="443.90" r="0.28"/><circle cx="301.91" cy="426.85" r="0.28"/><circle cx="309.32" cy="430.90" r="0.28"/><circle cx="297.81" cy="432.76" r="0.28"/><circle cx="305.00" cy="428.68" r="0.28"/><circle cx="284.39" cy="429.77" r="0.28"/><circle cx="280.44" cy="444.78" r="0.28"/><circle cx="298.29" cy="431.67" r="0.28"/><circle cx="290.63" cy="447.32" r="0.28"/><circle cx="295.31" cy="429.44" r="0.28"/><circle cx="307.95" cy="439.35" r="0.28"/><circle cx="315.62" cy="426.40" r="0.28"/><circle cx="293.94" cy="443.25" r="0.28"/><circle cx="309.30" cy="445.49" r="0.28"/><circle cx="275.70" cy="430.90" r="0.28"/><circle cx="279.01" cy="428.45" r="0.28"/><circle cx="314.86" cy="437.71" r="0.28"/><circle cx="313.07" cy="432.75" r="0.28"/><circle cx="310.38" cy="434.55" r="0.28"/><circle cx="284.92" cy="442.28" r="0.28"/><circle cx="313.72" cy="426.49" r="0.28"/><circle cx="299.04" cy="438.57" r="0.28"/><circle cx="283.14" cy="432.66" r="0.28"/><circle cx="279.94" cy="428.79" r="0.28"/><circle cx="284.71" cy="438.09" r="0.28"/><circle cx="301.37" cy="428.78" r="0.28"/><circle cx="274.48" cy="431.69" r="0.28"/><circle cx="302.49" cy="428.35" r="0.28"/><circle cx="287.11" cy="428.78" r="0.28"/><circle cx="307.40" cy="436.88" r="0.28"/><circle cx="276.66" cy="426.38" r="0.28"/><circle cx="290.60" cy="436.93" r="0.28"/><circle cx="300.85" cy="426.14" r="0.28"/><circle cx="280.87" cy="440.34" r="0.28"/><circle cx="291.21" cy="430.66" r="0.28"/><circle cx="286.92" cy="446.40" r="0.28"/><circle cx="287.12" cy="437.31" r="0.28"/><circle cx="289.00" cy="433.79" r="0.28"/><circle cx="310.30" cy="447.42" r="0.28"/><circle cx="289.28" cy="428.63" r="0.28"/><circle cx="304.58" cy="428.79" r="0.28"/><circle cx="274.25" cy="445.19" r="0.28"/><circle cx="291.80" cy="443.28" r="0.28"/><circle cx="291.06" cy="444.75" r="0.28"/><circle cx="293.36" cy="427.82" r="0.28"/><circle cx="274.62" cy="436.96" r="0.28"/><circle cx="300.91" cy="445.38" r="0.28"/><circle cx="277.74" cy="438.62" r="0.28"/><circle cx="289.58" cy="435.85" r="0.28"/><circle cx="280.13" cy="430.66" r="0.28"/><circle cx="295.89" cy="445.75" r="0.28"/><circle cx="278.57" cy="435.53" r="0.28"/><circle cx="307.80" cy="446.72" r="0.28"/><circle cx="282.29" cy="426.98" r="0.28"/><circle cx="313.61" cy="446.93" r="0.28"/><circle cx="294.27" cy="425.25" r="0.28"/><circle cx="312.90" cy="433.12" r="0.28"/><circle cx="311.98" cy="438.58" r="0.28"/><circle cx="308.63" cy="427.77" r="0.28"/><circle cx="307.00" cy="429.22" r="0.28"/><circle cx="290.99" cy="443.89" r="0.28"/><circle cx="308.83" cy="428.30" r="0.28"/><circle cx="283.16" cy="433.39" r="0.28"/><circle cx="295.75" cy="433.01" r="0.28"/><circle cx="279.17" cy="429.81" r="0.28"/><circle cx="304.45" cy="445.09" r="0.28"/><circle cx="275.73" cy="437.22" r="0.28"/><circle cx="305.81" cy="424.90" r="0.28"/><circle cx="309.20" cy="426.77" r="0.28"/><circle cx="299.18" cy="436.93" r="0.28"/><circle cx="300.34" cy="431.20" r="0.28"/><circle cx="291.64" cy="437.69" r="0.28"/><circle cx="291.88" cy="439.48" r="0.28"/><circle cx="292.77" cy="434.30" r="0.28"/><circle cx="274.98" cy="438.54" r="0.28"/><circle cx="294.56" cy="429.53" r="0.28"/><circle cx="306.07" cy="442.33" r="0.28"/><circle cx="293.25" cy="428.22" r="0.28"/><circle cx="293.88" cy="426.52" r="0.28"/><circle cx="279.40" cy="434.12" r="0.28"/><circle cx="277.85" cy="434.39" r="0.28"/><circle cx="295.43" cy="424.96" r="0.28"/><circle cx="300.73" cy="425.93" r="0.28"/><circle cx="304.81" cy="442.27" r="0.28"/><circle cx="295.48" cy="425.28" r="0.28"/><circle cx="295.16" cy="432.88" r="0.28"/><circle cx="313.94" cy="427.20" r="0.28"/><circle cx="310.00" cy="447.41" r="0.28"/><circle cx="304.75" cy="443.15" r="0.28"/><circle cx="282.14" cy="447.07" r="0.28"/><circle cx="294.66" cy="446.48" r="0.28"/><circle cx="312.47" cy="427.88" r="0.28"/><circle cx="307.11" cy="445.87" r="0.28"/><circle cx="276.75" cy="432.25" r="0.28"/><circle cx="305.76" cy="427.73" r="0.28"/><circle cx="311.65" cy="430.46" r="0.28"/><circle cx="308.26" cy="427.37" r="0.28"/><circle cx="295.09" cy="445.62" r="0.28"/><circle cx="282.75" cy="430.18" r="0.28"/><circle cx="295.25" cy="431.50" r="0.28"/><circle cx="275.55" cy="428.28" r="0.28"/><circle cx="280.77" cy="446.01" r="0.28"/><circle cx="302.55" cy="445.04" r="0.28"/><circle cx="281.09" cy="442.44" r="0.28"/><circle cx="278.83" cy="436.47" r="0.28"/><circle cx="300.73" cy="432.45" r="0.28"/><circle cx="310.66" cy="437.05" r="0.28"/><circle cx="298.36" cy="444.74" r="0.28"/><circle cx="278.39" cy="447.33" r="0.28"/><circle cx="300.45" cy="433.27" r="0.28"/><circle cx="307.50" cy="430.22" r="0.28"/><circle cx="315.60" cy="437.57" r="0.28"/><circle cx="289.13" cy="441.97" r="0.28"/><circle cx="292.58" cy="428.15" r="0.28"/><circle cx="305.23" cy="425.13" r="0.28"/><circle cx="308.43" cy="429.96" r="0.28"/><circle cx="300.85" cy="447.13" r="0.28"/><circle cx="298.61" cy="439.60" r="0.28"/><circle cx="287.13" cy="424.04" r="0.28"/><circle cx="275.42" cy="427.51" r="0.28"/><circle cx="299.87" cy="434.16" r="0.28"/><circle cx="295.53" cy="445.05" r="0.28"/><circle cx="279.54" cy="429.34" r="0.28"/><circle cx="301.43" cy="424.52" r="0.28"/><circle cx="274.11" cy="432.34" r="0.28"/><circle cx="278.47" cy="432.39" r="0.28"/><circle cx="283.42" cy="437.71" r="0.28"/><circle cx="298.74" cy="428.80" r="0.28"/><circle cx="300.21" cy="435.16" r="0.28"/><circle cx="279.66" cy="446.01" r="0.28"/><circle cx="284.23" cy="427.51" r="0.28"/><circle cx="278.02" cy="439.00" r="0.28"/><circle cx="310.59" cy="442.38" r="0.28"/><circle cx="290.88" cy="430.21" r="0.28"/><circle cx="274.48" cy="439.16" r="0.28"/><circle cx="297.62" cy="432.23" r="0.28"/><circle cx="301.12" cy="434.43" r="0.28"/><circle cx="313.36" cy="441.24" r="0.28"/></g>
<path d="M283,447.6 L304.5,427.6 C308,427 311.5,429 312,434 L312.5,447.6 Z" fill="url(#gLung)" stroke="none"/>
<path d="M283,447.6 L304.5,427.6" stroke="#777" stroke-width="0.4" stroke-dasharray="0.8,0.6"/>
<path d="M288,447.6 L305,431 C308,430.5 310,432 310.5,436 L311,447.6" fill="none" stroke="#aaa" stroke-width="0.3"/>
<path d="M294,447.6 L306,436 C308,435.5 309.5,437 309.5,440 L309.5,447.6" fill="none" stroke="#999" stroke-width="0.3"/>
<rect x="291" y="446.2" width="17" height="1.6" fill="#555" fill-opacity="0.8"/>
<g fill="#1a1a1a"><rect x="272.00" y="430.00" width="1.90" height="0.7"/><rect x="272.00" y="431.25" width="1.65" height="0.7"/><rect x="272.00" y="432.32" width="2.09" height="0.7"/><rect x="272.00" y="433.24" width="1.67" height="0.7"/><rect x="272.00" y="434.43" width="1.61" height="0.7"/><rect x="272.00" y="435.50" width="2.73" height="0.7"/><rect x="272.00" y="436.37" width="1.84" height="0.7"/><rect x="272.00" y="437.48" width="2.21" height="0.7"/><rect x="272.00" y="438.60" width="2.58" height="0.7"/><rect x="272.00" y="439.48" width="1.97" height="0.7"/><rect x="272.00" y="440.43" width="1.66" height="0.7"/><rect x="272.00" y="441.68" width="2.54" height="0.7"/><rect x="272.00" y="442.84" width="1.61" height="0.7"/><rect x="272.00" y="444.06" width="2.49" height="0.7"/><rect x="272.00" y="445.09" width="2.49" height="0.7"/><rect x="272.00" y="446.12" width="1.87" height="0.7"/><rect x="272.00" y="446.97" width="1.88" height="0.7"/><rect x="272.00" y="447.79" width="2.00" height="0.7"/></g>
<rect x="320.8" y="418.3" width="30.2" height="29.8" fill="none" stroke="#333" stroke-width="0.7"/>
<text x="336.60" y="413.20" font-size="6.4" text-anchor="middle" fill="#333" font-weight="normal" stroke="#333" stroke-width="0.2">1.8%</text>
<g fill="#666"><circle cx="328.04" cy="432.73" r="0.28"/><circle cx="329.44" cy="436.95" r="0.28"/><circle cx="326.97" cy="438.58" r="0.28"/><circle cx="330.87" cy="435.27" r="0.28"/><circle cx="329.59" cy="445.71" r="0.28"/><circle cx="332.05" cy="439.39" r="0.28"/><circle cx="330.38" cy="439.52" r="0.28"/><circle cx="329.86" cy="442.93" r="0.28"/><circle cx="329.72" cy="430.38" r="0.28"/><circle cx="329.94" cy="436.44" r="0.28"/><circle cx="331.95" cy="437.56" r="0.28"/><circle cx="330.45" cy="448.71" r="0.28"/><circle cx="326.86" cy="435.50" r="0.28"/><circle cx="325.77" cy="430.42" r="0.28"/><circle cx="324.36" cy="441.46" r="0.28"/><circle cx="328.09" cy="432.53" r="0.28"/><circle cx="325.55" cy="442.47" r="0.28"/><circle cx="327.67" cy="438.53" r="0.28"/><circle cx="330.99" cy="445.43" r="0.28"/><circle cx="335.82" cy="444.13" r="0.28"/><circle cx="330.43" cy="440.74" r="0.28"/><circle cx="335.41" cy="445.71" r="0.28"/><circle cx="329.07" cy="441.83" r="0.28"/><circle cx="330.86" cy="440.21" r="0.28"/><circle cx="328.50" cy="434.69" r="0.28"/><circle cx="328.40" cy="433.82" r="0.28"/><circle cx="333.67" cy="442.15" r="0.28"/><circle cx="326.38" cy="445.58" r="0.28"/><circle cx="332.68" cy="432.37" r="0.28"/><circle cx="335.52" cy="443.24" r="0.28"/><circle cx="336.19" cy="435.08" r="0.28"/><circle cx="331.59" cy="441.69" r="0.28"/><circle cx="330.61" cy="440.68" r="0.28"/><circle cx="333.16" cy="434.02" r="0.28"/><circle cx="326.27" cy="434.42" r="0.28"/><circle cx="328.33" cy="437.58" r="0.28"/><circle cx="331.10" cy="441.07" r="0.28"/><circle cx="330.09" cy="437.29" r="0.28"/><circle cx="328.67" cy="443.81" r="0.28"/><circle cx="332.29" cy="440.40" r="0.28"/></g>
<g transform="translate(330.50,442.00) rotate(0)"><ellipse cx="0" cy="0" rx="4.00" ry="2.20" fill="url(#gC)" fill-opacity="0.3"/><ellipse cx="-0.00" cy="0.00" rx="4.00" ry="2.20" fill="none" stroke="#777" stroke-width="0.3"/><ellipse cx="-0.08" cy="0.03" rx="2.67" ry="1.47" fill="none" stroke="#777" stroke-width="0.3"/><ellipse cx="-0.16" cy="0.06" rx="1.33" ry="0.73" fill="none" stroke="#777" stroke-width="0.3"/></g>
<line x1="342.00" y1="444.60" x2="392.00" y2="444.60" stroke="#5c8fd0" stroke-width="0.9" />
<rect x="380.80" y="370.80" width="79.20" height="77.40" fill="none" stroke="#8a8a8a" stroke-width="0.6"/>
<line x1="380.80" y1="370.80" x2="380.80" y2="448.20" stroke="#6a6a6a" stroke-width="0.6" />
<line x1="380.80" y1="448.20" x2="460.00" y2="448.20" stroke="#6a6a6a" stroke-width="0.6" />
<line x1="380.00" y1="443.70" x2="380.80" y2="443.70" stroke="#888" stroke-width="0.3" />
<line x1="380.00" y1="441.80" x2="380.80" y2="441.80" stroke="#888" stroke-width="0.3" />
<line x1="380.00" y1="439.90" x2="380.80" y2="439.90" stroke="#888" stroke-width="0.3" />
<line x1="380.00" y1="438.00" x2="380.80" y2="438.00" stroke="#888" stroke-width="0.3" />
<line x1="380.00" y1="436.10" x2="380.80" y2="436.10" stroke="#888" stroke-width="0.3" />
<line x1="380.00" y1="434.20" x2="380.80" y2="434.20" stroke="#888" stroke-width="0.3" />
<line x1="380.00" y1="432.30" x2="380.80" y2="432.30" stroke="#888" stroke-width="0.3" />
<line x1="380.00" y1="430.40" x2="380.80" y2="430.40" stroke="#888" stroke-width="0.3" />
<line x1="380.00" y1="428.50" x2="380.80" y2="428.50" stroke="#888" stroke-width="0.3" />
<line x1="380.00" y1="426.60" x2="380.80" y2="426.60" stroke="#888" stroke-width="0.3" />
<line x1="380.00" y1="424.70" x2="380.80" y2="424.70" stroke="#888" stroke-width="0.3" />
<line x1="380.00" y1="422.80" x2="380.80" y2="422.80" stroke="#888" stroke-width="0.3" />
<line x1="380.00" y1="420.90" x2="380.80" y2="420.90" stroke="#888" stroke-width="0.3" />
<line x1="380.00" y1="419.00" x2="380.80" y2="419.00" stroke="#888" stroke-width="0.3" />
<line x1="380.00" y1="417.10" x2="380.80" y2="417.10" stroke="#888" stroke-width="0.3" />
<line x1="380.00" y1="415.20" x2="380.80" y2="415.20" stroke="#888" stroke-width="0.3" />
<line x1="380.00" y1="413.30" x2="380.80" y2="413.30" stroke="#888" stroke-width="0.3" />
<line x1="380.00" y1="411.40" x2="380.80" y2="411.40" stroke="#888" stroke-width="0.3" />
<line x1="380.00" y1="409.50" x2="380.80" y2="409.50" stroke="#888" stroke-width="0.3" />
<line x1="380.00" y1="407.60" x2="380.80" y2="407.60" stroke="#888" stroke-width="0.3" />
<line x1="380.00" y1="405.70" x2="380.80" y2="405.70" stroke="#888" stroke-width="0.3" />
<line x1="380.00" y1="403.80" x2="380.80" y2="403.80" stroke="#888" stroke-width="0.3" />
<line x1="380.00" y1="401.90" x2="380.80" y2="401.90" stroke="#888" stroke-width="0.3" />
<line x1="380.00" y1="400.00" x2="380.80" y2="400.00" stroke="#888" stroke-width="0.3" />
<line x1="380.00" y1="398.10" x2="380.80" y2="398.10" stroke="#888" stroke-width="0.3" />
<line x1="380.00" y1="396.20" x2="380.80" y2="396.20" stroke="#888" stroke-width="0.3" />
<line x1="380.00" y1="394.30" x2="380.80" y2="394.30" stroke="#888" stroke-width="0.3" />
<line x1="380.00" y1="392.40" x2="380.80" y2="392.40" stroke="#888" stroke-width="0.3" />
<line x1="380.00" y1="390.50" x2="380.80" y2="390.50" stroke="#888" stroke-width="0.3" />
<line x1="380.00" y1="388.60" x2="380.80" y2="388.60" stroke="#888" stroke-width="0.3" />
<line x1="380.00" y1="386.70" x2="380.80" y2="386.70" stroke="#888" stroke-width="0.3" />
<line x1="380.00" y1="384.80" x2="380.80" y2="384.80" stroke="#888" stroke-width="0.3" />
<line x1="380.00" y1="382.90" x2="380.80" y2="382.90" stroke="#888" stroke-width="0.3" />
<line x1="380.00" y1="381.00" x2="380.80" y2="381.00" stroke="#888" stroke-width="0.3" />
<line x1="380.00" y1="379.10" x2="380.80" y2="379.10" stroke="#888" stroke-width="0.3" />
<line x1="380.00" y1="377.20" x2="380.80" y2="377.20" stroke="#888" stroke-width="0.3" />
<line x1="380.00" y1="375.30" x2="380.80" y2="375.30" stroke="#888" stroke-width="0.3" />
<line x1="380.00" y1="373.40" x2="380.80" y2="373.40" stroke="#888" stroke-width="0.3" />
<line x1="379.20" y1="443.70" x2="380.80" y2="443.70" stroke="#444" stroke-width="0.5" />
<text x="377.40" y="445.10" font-size="3.9" text-anchor="end" fill="#444" font-weight="normal" stroke="#444" stroke-width="0.1">0</text>
<line x1="379.20" y1="431.20" x2="380.80" y2="431.20" stroke="#444" stroke-width="0.5" />
<text x="377.40" y="432.60" font-size="3.9" text-anchor="end" fill="#444" font-weight="normal" stroke="#444" stroke-width="0.1">10<tspan font-size="2.6" dy="-1.5">2</tspan></text>
<line x1="379.20" y1="413.80" x2="380.80" y2="413.80" stroke="#444" stroke-width="0.5" />
<text x="377.40" y="415.20" font-size="3.9" text-anchor="end" fill="#444" font-weight="normal" stroke="#444" stroke-width="0.1">10<tspan font-size="2.6" dy="-1.5">3</tspan></text>
<line x1="379.20" y1="395.60" x2="380.80" y2="395.60" stroke="#444" stroke-width="0.5" />
<text x="377.40" y="397.00" font-size="3.9" text-anchor="end" fill="#444" font-weight="normal" stroke="#444" stroke-width="0.1">10<tspan font-size="2.6" dy="-1.5">4</tspan></text>
<line x1="379.20" y1="377.60" x2="380.80" y2="377.60" stroke="#444" stroke-width="0.5" />
<text x="377.40" y="379.00" font-size="3.9" text-anchor="end" fill="#444" font-weight="normal" stroke="#444" stroke-width="0.1">10<tspan font-size="2.6" dy="-1.5">5</tspan></text>
<line x1="386.10" y1="448.20" x2="386.10" y2="449.60" stroke="#444" stroke-width="0.5" />
<text x="386.10" y="454.80" font-size="3.9" text-anchor="middle" fill="#444" font-weight="normal" stroke="#444" stroke-width="0.1">0</text>
<line x1="399.10" y1="448.20" x2="399.10" y2="449.60" stroke="#444" stroke-width="0.5" />
<text x="399.10" y="454.80" font-size="3.9" text-anchor="middle" fill="#444" font-weight="normal" stroke="#444" stroke-width="0.1">10<tspan font-size="2.6" dy="-1.5">2</tspan></text>
<line x1="415.30" y1="448.20" x2="415.30" y2="449.60" stroke="#444" stroke-width="0.5" />
<text x="415.30" y="454.80" font-size="3.9" text-anchor="middle" fill="#444" font-weight="normal" stroke="#444" stroke-width="0.1">10<tspan font-size="2.6" dy="-1.5">3</tspan></text>
<line x1="434.10" y1="448.20" x2="434.10" y2="449.60" stroke="#444" stroke-width="0.5" />
<text x="434.10" y="454.80" font-size="3.9" text-anchor="middle" fill="#444" font-weight="normal" stroke="#444" stroke-width="0.1">10<tspan font-size="2.6" dy="-1.5">4</tspan></text>
<line x1="451.60" y1="448.20" x2="451.60" y2="449.60" stroke="#444" stroke-width="0.5" />
<text x="451.60" y="454.80" font-size="3.9" text-anchor="middle" fill="#444" font-weight="normal" stroke="#444" stroke-width="0.1">10<tspan font-size="2.6" dy="-1.5">5</tspan></text>
<text transform="translate(363.30,436.60) rotate(-90)" x="0" y="3.10" font-size="8.6" text-anchor="middle" fill="#1a1a1a" textLength="7.2" lengthAdjust="spacingAndGlyphs" stroke="#1a1a1a" stroke-width="0.3">Lin</text>
<line x1="363.50" y1="425.20" x2="363.50" y2="392.20" stroke="#222" stroke-width="0.65" />
<polygon points="363.50,389.40 364.80,392.20 362.20,392.20" fill="#222"/>
<text x="382.80" y="465.40" font-size="8.2" text-anchor="start" fill="#1a1a1a" textLength="16.3" lengthAdjust="spacingAndGlyphs" stroke="#1a1a1a" stroke-width="0.3">CD161</text>
<line x1="403.60" y1="462.80" x2="436.00" y2="462.80" stroke="#222" stroke-width="0.6" />
<polygon points="438.60,462.80 436.00,464.00 436.00,461.60" fill="#222"/>
<g fill="#999"><circle cx="400.54" cy="426.52" r="0.28"/><circle cx="405.24" cy="400.85" r="0.28"/><circle cx="438.02" cy="412.74" r="0.28"/><circle cx="431.83" cy="420.19" r="0.28"/><circle cx="386.70" cy="406.84" r="0.28"/><circle cx="409.00" cy="430.25" r="0.28"/><circle cx="404.07" cy="425.80" r="0.28"/><circle cx="414.58" cy="394.08" r="0.28"/><circle cx="432.42" cy="385.91" r="0.28"/><circle cx="430.09" cy="391.07" r="0.28"/><circle cx="385.07" cy="393.13" r="0.28"/><circle cx="426.92" cy="443.56" r="0.28"/><circle cx="385.24" cy="411.90" r="0.28"/><circle cx="412.03" cy="431.79" r="0.28"/><circle cx="395.15" cy="412.15" r="0.28"/><circle cx="404.10" cy="434.07" r="0.28"/><circle cx="399.33" cy="441.35" r="0.28"/><circle cx="400.61" cy="393.96" r="0.28"/><circle cx="423.47" cy="412.39" r="0.28"/><circle cx="391.05" cy="421.37" r="0.28"/><circle cx="389.45" cy="431.21" r="0.28"/><circle cx="423.34" cy="431.15" r="0.28"/><circle cx="419.54" cy="403.12" r="0.28"/><circle cx="407.07" cy="405.65" r="0.28"/><circle cx="433.97" cy="385.60" r="0.28"/><circle cx="433.86" cy="381.64" r="0.28"/><circle cx="396.34" cy="397.11" r="0.28"/><circle cx="434.57" cy="412.58" r="0.28"/><circle cx="405.86" cy="437.46" r="0.28"/><circle cx="397.85" cy="409.96" r="0.28"/><circle cx="414.23" cy="429.04" r="0.28"/><circle cx="426.41" cy="422.01" r="0.28"/><circle cx="404.17" cy="401.23" r="0.28"/><circle cx="393.54" cy="434.80" r="0.28"/><circle cx="421.42" cy="428.23" r="0.28"/><circle cx="394.33" cy="408.52" r="0.28"/><circle cx="427.54" cy="417.65" r="0.28"/><circle cx="391.93" cy="410.03" r="0.28"/><circle cx="433.68" cy="395.47" r="0.28"/><circle cx="395.54" cy="399.60" r="0.28"/><circle cx="423.67" cy="434.84" r="0.28"/><circle cx="393.50" cy="390.14" r="0.28"/><circle cx="398.62" cy="401.23" r="0.28"/><circle cx="413.72" cy="390.46" r="0.28"/><circle cx="403.04" cy="392.30" r="0.28"/><circle cx="438.63" cy="427.37" r="0.28"/><circle cx="390.60" cy="442.56" r="0.28"/><circle cx="390.59" cy="404.98" r="0.28"/><circle cx="439.11" cy="431.67" r="0.28"/><circle cx="425.33" cy="408.27" r="0.28"/><circle cx="395.79" cy="421.47" r="0.28"/><circle cx="390.88" cy="393.42" r="0.28"/><circle cx="406.36" cy="382.21" r="0.28"/><circle cx="406.95" cy="431.42" r="0.28"/><circle cx="423.14" cy="412.53" r="0.28"/><circle cx="419.78" cy="410.11" r="0.28"/><circle cx="392.80" cy="419.24" r="0.28"/><circle cx="407.26" cy="428.16" r="0.28"/><circle cx="434.94" cy="407.95" r="0.28"/><circle cx="416.57" cy="428.69" r="0.28"/><circle cx="408.16" cy="394.86" r="0.28"/><circle cx="424.72" cy="437.21" r="0.28"/><circle cx="427.57" cy="425.51" r="0.28"/><circle cx="431.88" cy="424.17" r="0.28"/><circle cx="420.28" cy="409.50" r="0.28"/><circle cx="402.22" cy="420.84" r="0.28"/><circle cx="390.38" cy="407.27" r="0.28"/><circle cx="428.03" cy="426.35" r="0.28"/><circle cx="419.63" cy="396.25" r="0.28"/><circle cx="408.30" cy="409.59" r="0.28"/><circle cx="419.19" cy="406.61" r="0.28"/><circle cx="422.14" cy="440.46" r="0.28"/><circle cx="395.07" cy="422.54" r="0.28"/><circle cx="427.80" cy="405.27" r="0.28"/><circle cx="411.94" cy="443.35" r="0.28"/><circle cx="387.10" cy="415.32" r="0.28"/><circle cx="393.85" cy="430.82" r="0.28"/><circle cx="436.73" cy="413.75" r="0.28"/><circle cx="390.56" cy="417.35" r="0.28"/><circle cx="414.76" cy="426.62" r="0.28"/><circle cx="413.17" cy="421.55" r="0.28"/><circle cx="430.59" cy="413.91" r="0.28"/><circle cx="407.57" cy="441.62" r="0.28"/><circle cx="396.55" cy="424.48" r="0.28"/><circle cx="406.59" cy="429.58" r="0.28"/><circle cx="391.73" cy="443.99" r="0.28"/><circle cx="404.55" cy="383.68" r="0.28"/><circle cx="400.09" cy="405.98" r="0.28"/><circle cx="385.73" cy="407.21" r="0.28"/><circle cx="408.13" cy="425.39" r="0.28"/></g>
<g transform="translate(397.50,393.40) rotate(0)"><ellipse cx="0" cy="0" rx="14.50" ry="9.20" fill="url(#gC)" fill-opacity="0.0"/><ellipse cx="-0.00" cy="0.00" rx="14.50" ry="9.20" fill="none" stroke="#aaa" stroke-width="0.35"/></g>
<g transform="translate(396.00,393.60) rotate(-5)"><ellipse cx="0" cy="0" rx="12.00" ry="9.00" fill="url(#gG)" fill-opacity="0.85"/><ellipse cx="-0.00" cy="0.00" rx="12.00" ry="9.00" fill="none" stroke="#999" stroke-width="0.35"/><ellipse cx="-0.12" cy="0.06" rx="10.00" ry="7.50" fill="none" stroke="#999" stroke-width="0.35"/><ellipse cx="-0.24" cy="0.12" rx="8.00" ry="6.00" fill="none" stroke="#999" stroke-width="0.35"/><ellipse cx="-0.36" cy="0.18" rx="6.00" ry="4.50" fill="none" stroke="#999" stroke-width="0.35"/><ellipse cx="-0.48" cy="0.24" rx="4.00" ry="3.00" fill="none" stroke="#999" stroke-width="0.35"/><ellipse cx="-0.60" cy="0.30" rx="2.00" ry="1.50" fill="none" stroke="#999" stroke-width="0.35"/><ellipse cx="0" cy="0" rx="1.08" ry="0.72" fill="#fff" fill-opacity="0.9"/></g>
<g transform="translate(401.60,417.20) rotate(20)"><ellipse cx="0" cy="0" rx="4.20" ry="6.50" fill="url(#gC)" fill-opacity="0.0"/><ellipse cx="-0.00" cy="0.00" rx="4.20" ry="6.50" fill="none" stroke="#777" stroke-width="0.35"/><ellipse cx="-0.13" cy="0.13" rx="2.10" ry="3.25" fill="none" stroke="#777" stroke-width="0.35"/></g>
<g transform="translate(418.40,422.70) rotate(-30)"><ellipse cx="0" cy="0" rx="8.50" ry="9.00" fill="url(#gC)" fill-opacity="0.1"/><ellipse cx="-0.00" cy="0.00" rx="8.50" ry="9.00" fill="none" stroke="#777" stroke-width="0.35"/><ellipse cx="-0.10" cy="0.07" rx="6.80" ry="7.20" fill="none" stroke="#777" stroke-width="0.35"/><ellipse cx="-0.20" cy="0.14" rx="5.10" ry="5.40" fill="none" stroke="#777" stroke-width="0.35"/><ellipse cx="-0.31" cy="0.22" rx="3.40" ry="3.60" fill="none" stroke="#777" stroke-width="0.35"/><ellipse cx="-0.41" cy="0.29" rx="1.70" ry="1.80" fill="none" stroke="#777" stroke-width="0.35"/></g>
<path d="M407.6,445 V426.2 L415,413.4 H455.6 V445 Z" fill="none" stroke="#333" stroke-width="0.7"/>
<text x="437.60" y="439.70" font-size="6.4" text-anchor="middle" fill="#333" font-weight="normal" stroke="#333" stroke-width="0.2">12.1%</text>
<rect x="381" y="446" width="6" height="2.4" fill="#222"/>
<rect x="40.80" y="496.30" width="79.60" height="76.70" fill="none" stroke="#8a8a8a" stroke-width="0.6"/>
<line x1="40.80" y1="496.30" x2="40.80" y2="573.00" stroke="#6a6a6a" stroke-width="0.6" />
<line x1="40.80" y1="573.00" x2="120.40" y2="573.00" stroke="#6a6a6a" stroke-width="0.6" />
<line x1="39.20" y1="572.50" x2="40.80" y2="572.50" stroke="#444" stroke-width="0.5" />
<text x="36.00" y="574.00" font-size="4.3" text-anchor="end" fill="#444" font-weight="normal" stroke="#444" stroke-width="0.1">0</text>
<line x1="40.00" y1="569.57" x2="40.80" y2="569.57" stroke="#777" stroke-width="0.35" />
<line x1="40.00" y1="566.64" x2="40.80" y2="566.64" stroke="#777" stroke-width="0.35" />
<line x1="40.00" y1="563.72" x2="40.80" y2="563.72" stroke="#777" stroke-width="0.35" />
<line x1="40.00" y1="560.79" x2="40.80" y2="560.79" stroke="#777" stroke-width="0.35" />
<line x1="39.20" y1="557.86" x2="40.80" y2="557.86" stroke="#444" stroke-width="0.5" />
<text x="36.00" y="559.36" font-size="4.3" text-anchor="end" fill="#444" font-weight="normal" stroke="#444" stroke-width="0.1">50K</text>
<line x1="40.00" y1="554.93" x2="40.80" y2="554.93" stroke="#777" stroke-width="0.35" />
<line x1="40.00" y1="552.00" x2="40.80" y2="552.00" stroke="#777" stroke-width="0.35" />
<line x1="40.00" y1="549.08" x2="40.80" y2="549.08" stroke="#777" stroke-width="0.35" />
<line x1="40.00" y1="546.15" x2="40.80" y2="546.15" stroke="#777" stroke-width="0.35" />
<line x1="39.20" y1="543.22" x2="40.80" y2="543.22" stroke="#444" stroke-width="0.5" />
<text x="36.00" y="544.72" font-size="4.3" text-anchor="end" fill="#444" font-weight="normal" stroke="#444" stroke-width="0.1">100K</text>
<line x1="40.00" y1="540.29" x2="40.80" y2="540.29" stroke="#777" stroke-width="0.35" />
<line x1="40.00" y1="537.36" x2="40.80" y2="537.36" stroke="#777" stroke-width="0.35" />
<line x1="40.00" y1="534.44" x2="40.80" y2="534.44" stroke="#777" stroke-width="0.35" />
<line x1="40.00" y1="531.51" x2="40.80" y2="531.51" stroke="#777" stroke-width="0.35" />
<line x1="39.20" y1="528.58" x2="40.80" y2="528.58" stroke="#444" stroke-width="0.5" />
<text x="36.00" y="530.08" font-size="4.3" text-anchor="end" fill="#444" font-weight="normal" stroke="#444" stroke-width="0.1">150K</text>
<line x1="40.00" y1="525.65" x2="40.80" y2="525.65" stroke="#777" stroke-width="0.35" />
<line x1="40.00" y1="522.72" x2="40.80" y2="522.72" stroke="#777" stroke-width="0.35" />
<line x1="40.00" y1="519.80" x2="40.80" y2="519.80" stroke="#777" stroke-width="0.35" />
<line x1="40.00" y1="516.87" x2="40.80" y2="516.87" stroke="#777" stroke-width="0.35" />
<line x1="39.20" y1="513.94" x2="40.80" y2="513.94" stroke="#444" stroke-width="0.5" />
<text x="36.00" y="515.44" font-size="4.3" text-anchor="end" fill="#444" font-weight="normal" stroke="#444" stroke-width="0.1">200K</text>
<line x1="40.00" y1="511.01" x2="40.80" y2="511.01" stroke="#777" stroke-width="0.35" />
<line x1="40.00" y1="508.08" x2="40.80" y2="508.08" stroke="#777" stroke-width="0.35" />
<line x1="40.00" y1="505.16" x2="40.80" y2="505.16" stroke="#777" stroke-width="0.35" />
<line x1="40.00" y1="502.23" x2="40.80" y2="502.23" stroke="#777" stroke-width="0.35" />
<line x1="39.20" y1="499.30" x2="40.80" y2="499.30" stroke="#444" stroke-width="0.5" />
<text x="36.00" y="500.80" font-size="4.3" text-anchor="end" fill="#444" font-weight="normal" stroke="#444" stroke-width="0.1">250K</text>
<line x1="41.30" y1="573.00" x2="41.30" y2="574.40" stroke="#444" stroke-width="0.5" />
<text x="41.30" y="579.60" font-size="3.9" text-anchor="middle" fill="#444" font-weight="normal" stroke="#444" stroke-width="0.1">10<tspan font-size="2.6" dy="-1.5">0</tspan></text>
<line x1="56.02" y1="573.00" x2="56.02" y2="574.40" stroke="#444" stroke-width="0.5" />
<text x="56.02" y="579.60" font-size="3.9" text-anchor="middle" fill="#444" font-weight="normal" stroke="#444" stroke-width="0.1">10<tspan font-size="2.6" dy="-1.5">1</tspan></text>
<line x1="70.74" y1="573.00" x2="70.74" y2="574.40" stroke="#444" stroke-width="0.5" />
<text x="70.74" y="579.60" font-size="3.9" text-anchor="middle" fill="#444" font-weight="normal" stroke="#444" stroke-width="0.1">10<tspan font-size="2.6" dy="-1.5">2</tspan></text>
<line x1="85.46" y1="573.00" x2="85.46" y2="574.40" stroke="#444" stroke-width="0.5" />
<text x="85.46" y="579.60" font-size="3.9" text-anchor="middle" fill="#444" font-weight="normal" stroke="#444" stroke-width="0.1">10<tspan font-size="2.6" dy="-1.5">3</tspan></text>
<line x1="100.18" y1="573.00" x2="100.18" y2="574.40" stroke="#444" stroke-width="0.5" />
<text x="100.18" y="579.60" font-size="3.9" text-anchor="middle" fill="#444" font-weight="normal" stroke="#444" stroke-width="0.1">10<tspan font-size="2.6" dy="-1.5">4</tspan></text>
<line x1="114.90" y1="573.00" x2="114.90" y2="574.40" stroke="#444" stroke-width="0.5" />
<text x="114.90" y="579.60" font-size="3.9" text-anchor="middle" fill="#444" font-weight="normal" stroke="#444" stroke-width="0.1">10<tspan font-size="2.6" dy="-1.5">5</tspan></text>
<text transform="translate(20.20,561.70) rotate(-90)" x="0" y="3.17" font-size="8.8" text-anchor="middle" fill="#1a1a1a" textLength="10.5" lengthAdjust="spacingAndGlyphs" stroke="#1a1a1a" stroke-width="0.2">SSC</text>
<line x1="20.50" y1="550.00" x2="20.50" y2="517.00" stroke="#222" stroke-width="0.65" />
<polygon points="20.50,514.20 21.80,517.00 19.20,517.00" fill="#222"/>
<text x="39.60" y="590.20" font-size="8.2" text-anchor="start" fill="#1a1a1a" textLength="14.2" lengthAdjust="spacingAndGlyphs" stroke="#1a1a1a" stroke-width="0.3">CD45</text>
<line x1="58.80" y1="587.60" x2="91.50" y2="587.60" stroke="#222" stroke-width="0.6" />
<polygon points="94.10,587.60 91.50,588.80 91.50,586.40" fill="#222"/>
<g fill="#666"><circle cx="58.90" cy="555.23" r="0.28"/><circle cx="52.77" cy="566.42" r="0.28"/><circle cx="87.12" cy="561.39" r="0.28"/><circle cx="52.51" cy="567.83" r="0.28"/><circle cx="60.81" cy="553.98" r="0.28"/><circle cx="48.21" cy="567.25" r="0.28"/><circle cx="80.86" cy="563.91" r="0.28"/><circle cx="64.52" cy="562.21" r="0.28"/><circle cx="52.85" cy="571.65" r="0.28"/><circle cx="58.95" cy="564.01" r="0.28"/><circle cx="81.30" cy="568.18" r="0.28"/><circle cx="64.47" cy="555.92" r="0.28"/><circle cx="68.32" cy="551.94" r="0.28"/><circle cx="82.02" cy="557.34" r="0.28"/><circle cx="82.83" cy="555.28" r="0.28"/><circle cx="60.06" cy="554.96" r="0.28"/><circle cx="62.45" cy="553.37" r="0.28"/><circle cx="42.13" cy="565.96" r="0.28"/><circle cx="55.50" cy="554.76" r="0.28"/><circle cx="56.49" cy="560.27" r="0.28"/><circle cx="62.57" cy="563.98" r="0.28"/><circle cx="73.64" cy="557.52" r="0.28"/><circle cx="86.58" cy="569.08" r="0.28"/><circle cx="44.74" cy="568.46" r="0.28"/><circle cx="85.48" cy="567.42" r="0.28"/><circle cx="48.74" cy="568.54" r="0.28"/><circle cx="72.39" cy="549.35" r="0.28"/><circle cx="42.55" cy="571.37" r="0.28"/><circle cx="73.49" cy="554.88" r="0.28"/><circle cx="46.87" cy="552.35" r="0.28"/><circle cx="53.21" cy="567.24" r="0.28"/><circle cx="58.63" cy="552.59" r="0.28"/><circle cx="85.40" cy="567.60" r="0.28"/><circle cx="50.06" cy="569.94" r="0.28"/><circle cx="71.20" cy="567.36" r="0.28"/><circle cx="74.09" cy="570.01" r="0.28"/><circle cx="79.83" cy="568.71" r="0.28"/><circle cx="51.47" cy="565.28" r="0.28"/><circle cx="67.48" cy="566.43" r="0.28"/><circle cx="63.05" cy="569.74" r="0.28"/><circle cx="68.64" cy="555.22" r="0.28"/><circle cx="53.24" cy="552.27" r="0.28"/><circle cx="65.67" cy="550.37" r="0.28"/><circle cx="64.42" cy="552.39" r="0.28"/><circle cx="65.59" cy="560.71" r="0.28"/><circle cx="67.90" cy="569.28" r="0.28"/><circle cx="42.32" cy="568.76" r="0.28"/><circle cx="64.46" cy="562.22" r="0.28"/><circle cx="73.93" cy="568.75" r="0.28"/><circle cx="60.00" cy="558.84" r="0.28"/><circle cx="88.11" cy="550.77" r="0.28"/><circle cx="72.58" cy="563.95" r="0.28"/><circle cx="43.37" cy="563.33" r="0.28"/><circle cx="74.76" cy="570.89" r="0.28"/><circle cx="57.86" cy="572.07" r="0.28"/><circle cx="66.51" cy="560.39" r="0.28"/><circle cx="85.08" cy="549.80" r="0.28"/><circle cx="76.47" cy="563.69" r="0.28"/><circle cx="58.25" cy="569.25" r="0.28"/><circle cx="59.58" cy="560.15" r="0.28"/><circle cx="67.23" cy="567.11" r="0.28"/><circle cx="52.11" cy="559.23" r="0.28"/><circle cx="62.27" cy="562.02" r="0.28"/><circle cx="81.68" cy="555.88" r="0.28"/><circle cx="81.73" cy="558.49" r="0.28"/><circle cx="66.18" cy="555.38" r="0.28"/><circle cx="66.31" cy="571.91" r="0.28"/><circle cx="73.42" cy="567.61" r="0.28"/><circle cx="57.88" cy="556.45" r="0.28"/><circle cx="56.36" cy="562.78" r="0.28"/><circle cx="72.47" cy="567.43" r="0.28"/><circle cx="43.92" cy="565.98" r="0.28"/><circle cx="84.51" cy="561.82" r="0.28"/><circle cx="44.39" cy="556.06" r="0.28"/><circle cx="42.30" cy="553.46" r="0.28"/><circle cx="86.23" cy="563.30" r="0.28"/><circle cx="73.58" cy="567.54" r="0.28"/><circle cx="85.67" cy="563.38" r="0.28"/><circle cx="71.60" cy="563.73" r="0.28"/><circle cx="75.43" cy="563.01" r="0.28"/><circle cx="74.69" cy="553.99" r="0.28"/><circle cx="74.02" cy="559.76" r="0.28"/><circle cx="78.61" cy="551.38" r="0.28"/><circle cx="50.70" cy="549.87" r="0.28"/><circle cx="79.18" cy="570.48" r="0.28"/><circle cx="73.47" cy="557.67" r="0.28"/><circle cx="81.49" cy="567.48" r="0.28"/><circle cx="68.98" cy="555.06" r="0.28"/><circle cx="56.50" cy="558.91" r="0.28"/><circle cx="57.29" cy="559.12" r="0.28"/><circle cx="72.80" cy="570.95" r="0.28"/><circle cx="44.62" cy="562.34" r="0.28"/><circle cx="43.89" cy="551.79" r="0.28"/><circle cx="80.90" cy="562.52" r="0.28"/><circle cx="86.09" cy="559.49" r="0.28"/><circle cx="42.68" cy="558.10" r="0.28"/><circle cx="70.41" cy="571.04" r="0.28"/><circle cx="89.08" cy="560.17" r="0.28"/><circle cx="61.80" cy="551.40" r="0.28"/><circle cx="72.94" cy="553.99" r="0.28"/><circle cx="49.28" cy="549.36" r="0.28"/><circle cx="42.23" cy="565.07" r="0.28"/><circle cx="47.84" cy="571.71" r="0.28"/><circle cx="46.23" cy="569.43" r="0.28"/><circle cx="48.19" cy="549.42" r="0.28"/><circle cx="76.53" cy="554.69" r="0.28"/><circle cx="77.21" cy="553.40" r="0.28"/><circle cx="44.41" cy="567.19" r="0.28"/><circle cx="76.25" cy="569.10" r="0.28"/><circle cx="77.03" cy="550.98" r="0.28"/><circle cx="72.17" cy="565.67" r="0.28"/><circle cx="64.11" cy="570.91" r="0.28"/><circle cx="54.19" cy="571.66" r="0.28"/><circle cx="76.43" cy="549.27" r="0.28"/><circle cx="42.71" cy="564.29" r="0.28"/><circle cx="81.23" cy="550.87" r="0.28"/><circle cx="56.93" cy="566.14" r="0.28"/><circle cx="49.97" cy="569.23" r="0.28"/><circle cx="65.34" cy="550.40" r="0.28"/><circle cx="59.64" cy="562.51" r="0.28"/><circle cx="63.06" cy="564.91" r="0.28"/><circle cx="48.96" cy="567.74" r="0.28"/><circle cx="59.44" cy="564.15" r="0.28"/><circle cx="72.23" cy="558.82" r="0.28"/><circle cx="60.52" cy="567.48" r="0.28"/><circle cx="87.36" cy="567.44" r="0.28"/><circle cx="69.21" cy="555.87" r="0.28"/><circle cx="44.91" cy="571.89" r="0.28"/><circle cx="75.76" cy="568.44" r="0.28"/><circle cx="57.94" cy="563.24" r="0.28"/><circle cx="88.92" cy="568.54" r="0.28"/><circle cx="70.85" cy="556.25" r="0.28"/><circle cx="62.57" cy="569.87" r="0.28"/><circle cx="60.08" cy="565.09" r="0.28"/><circle cx="70.89" cy="570.06" r="0.28"/><circle cx="80.76" cy="555.66" r="0.28"/><circle cx="42.08" cy="555.18" r="0.28"/><circle cx="62.28" cy="562.79" r="0.28"/><circle cx="81.17" cy="569.85" r="0.28"/><circle cx="44.03" cy="568.58" r="0.28"/><circle cx="80.96" cy="569.38" r="0.28"/><circle cx="69.45" cy="555.44" r="0.28"/><circle cx="82.86" cy="567.97" r="0.28"/><circle cx="74.86" cy="570.47" r="0.28"/><circle cx="58.65" cy="551.00" r="0.28"/><circle cx="68.58" cy="567.74" r="0.28"/><circle cx="51.62" cy="566.63" r="0.28"/><circle cx="86.72" cy="554.50" r="0.28"/><circle cx="71.13" cy="564.93" r="0.28"/><circle cx="64.34" cy="553.85" r="0.28"/><circle cx="54.23" cy="566.65" r="0.28"/><circle cx="80.00" cy="559.80" r="0.28"/><circle cx="46.21" cy="567.95" r="0.28"/><circle cx="79.06" cy="554.47" r="0.28"/><circle cx="69.82" cy="570.08" r="0.28"/><circle cx="84.48" cy="561.26" r="0.28"/><circle cx="64.88" cy="562.85" r="0.28"/><circle cx="51.08" cy="553.52" r="0.28"/><circle cx="50.67" cy="565.48" r="0.28"/><circle cx="59.42" cy="562.26" r="0.28"/><circle cx="61.32" cy="561.15" r="0.28"/><circle cx="49.15" cy="550.05" r="0.28"/><circle cx="89.86" cy="557.79" r="0.28"/><circle cx="47.09" cy="563.87" r="0.28"/><circle cx="79.79" cy="552.67" r="0.28"/><circle cx="70.67" cy="557.11" r="0.28"/><circle cx="66.93" cy="549.48" r="0.28"/><circle cx="43.61" cy="572.27" r="0.28"/><circle cx="83.57" cy="560.43" r="0.28"/><circle cx="69.22" cy="555.15" r="0.28"/><circle cx="79.40" cy="559.01" r="0.28"/><circle cx="87.43" cy="567.03" r="0.28"/><circle cx="81.30" cy="571.64" r="0.28"/><circle cx="54.19" cy="549.89" r="0.28"/><circle cx="51.65" cy="553.25" r="0.28"/><circle cx="46.02" cy="550.20" r="0.28"/><circle cx="68.75" cy="569.46" r="0.28"/><circle cx="64.00" cy="571.26" r="0.28"/><circle cx="85.68" cy="550.51" r="0.28"/><circle cx="70.71" cy="558.34" r="0.28"/><circle cx="47.76" cy="571.54" r="0.28"/><circle cx="54.35" cy="562.27" r="0.28"/><circle cx="72.75" cy="571.48" r="0.28"/><circle cx="74.15" cy="558.24" r="0.28"/><circle cx="63.52" cy="552.75" r="0.28"/><circle cx="88.36" cy="572.31" r="0.28"/><circle cx="52.64" cy="549.91" r="0.28"/><circle cx="54.28" cy="557.27" r="0.28"/><circle cx="85.33" cy="570.26" r="0.28"/><circle cx="82.19" cy="550.11" r="0.28"/><circle cx="79.75" cy="565.68" r="0.28"/><circle cx="73.04" cy="572.16" r="0.28"/><circle cx="44.68" cy="552.40" r="0.28"/><circle cx="78.24" cy="571.08" r="0.28"/><circle cx="74.49" cy="556.02" r="0.28"/><circle cx="70.39" cy="566.81" r="0.28"/><circle cx="47.06" cy="556.61" r="0.28"/><circle cx="54.34" cy="551.92" r="0.28"/><circle cx="65.10" cy="552.96" r="0.28"/><circle cx="53.45" cy="552.36" r="0.28"/><circle cx="74.53" cy="549.30" r="0.28"/><circle cx="76.43" cy="553.58" r="0.28"/><circle cx="43.73" cy="570.80" r="0.28"/><circle cx="52.59" cy="570.95" r="0.28"/><circle cx="83.60" cy="569.88" r="0.28"/><circle cx="48.71" cy="559.51" r="0.28"/><circle cx="46.66" cy="570.83" r="0.28"/><circle cx="82.43" cy="563.77" r="0.28"/><circle cx="63.71" cy="556.98" r="0.28"/><circle cx="81.51" cy="560.22" r="0.28"/><circle cx="72.15" cy="552.36" r="0.28"/><circle cx="52.64" cy="550.33" r="0.28"/><circle cx="76.26" cy="562.00" r="0.28"/><circle cx="48.95" cy="569.46" r="0.28"/><circle cx="54.79" cy="558.68" r="0.28"/><circle cx="49.47" cy="555.37" r="0.28"/><circle cx="82.30" cy="556.86" r="0.28"/><circle cx="50.05" cy="560.54" r="0.28"/><circle cx="57.27" cy="570.22" r="0.28"/><circle cx="47.48" cy="572.00" r="0.28"/><circle cx="44.73" cy="570.03" r="0.28"/><circle cx="74.08" cy="553.96" r="0.28"/><circle cx="64.92" cy="555.73" r="0.28"/><circle cx="54.37" cy="553.74" r="0.28"/><circle cx="59.49" cy="572.29" r="0.28"/><circle cx="89.91" cy="570.74" r="0.28"/><circle cx="46.68" cy="555.80" r="0.28"/><circle cx="85.02" cy="550.35" r="0.28"/><circle cx="76.87" cy="555.90" r="0.28"/><circle cx="88.97" cy="549.38" r="0.28"/><circle cx="80.74" cy="557.01" r="0.28"/><circle cx="48.73" cy="549.05" r="0.28"/><circle cx="81.95" cy="561.37" r="0.28"/><circle cx="50.92" cy="559.23" r="0.28"/><circle cx="85.78" cy="554.13" r="0.28"/><circle cx="69.42" cy="552.24" r="0.28"/><circle cx="50.65" cy="567.11" r="0.28"/><circle cx="76.16" cy="553.62" r="0.28"/><circle cx="45.80" cy="551.05" r="0.28"/><circle cx="71.21" cy="560.64" r="0.28"/><circle cx="55.15" cy="553.84" r="0.28"/><circle cx="71.40" cy="565.63" r="0.28"/><circle cx="80.96" cy="562.70" r="0.28"/><circle cx="51.71" cy="550.54" r="0.28"/><circle cx="77.17" cy="558.59" r="0.28"/><circle cx="76.64" cy="550.30" r="0.28"/><circle cx="80.91" cy="556.88" r="0.28"/><circle cx="82.41" cy="569.32" r="0.28"/><circle cx="65.66" cy="549.36" r="0.28"/><circle cx="85.69" cy="560.20" r="0.28"/><circle cx="83.86" cy="555.26" r="0.28"/><circle cx="50.93" cy="568.54" r="0.28"/><circle cx="59.62" cy="552.84" r="0.28"/><circle cx="59.82" cy="562.98" r="0.28"/><circle cx="42.22" cy="561.22" r="0.28"/><circle cx="63.40" cy="561.12" r="0.28"/><circle cx="47.80" cy="565.79" r="0.28"/><circle cx="81.19" cy="569.34" r="0.28"/><circle cx="57.41" cy="565.71" r="0.28"/><circle cx="60.31" cy="566.66" r="0.28"/><circle cx="44.94" cy="569.51" r="0.28"/><circle cx="87.79" cy="560.63" r="0.28"/><circle cx="66.64" cy="561.47" r="0.28"/><circle cx="67.79" cy="549.49" r="0.28"/><circle cx="88.44" cy="554.26" r="0.28"/><circle cx="50.75" cy="551.41" r="0.28"/><circle cx="54.02" cy="568.20" r="0.28"/><circle cx="43.44" cy="551.27" r="0.28"/><circle cx="75.55" cy="553.58" r="0.28"/><circle cx="42.85" cy="563.09" r="0.28"/><circle cx="69.67" cy="561.29" r="0.28"/><circle cx="75.73" cy="551.42" r="0.28"/><circle cx="83.74" cy="565.85" r="0.28"/><circle cx="44.17" cy="551.89" r="0.28"/><circle cx="65.69" cy="560.77" r="0.28"/><circle cx="55.42" cy="551.87" r="0.28"/><circle cx="61.47" cy="552.22" r="0.28"/><circle cx="70.41" cy="569.24" r="0.28"/><circle cx="49.07" cy="562.46" r="0.28"/><circle cx="77.84" cy="552.86" r="0.28"/><circle cx="81.65" cy="571.03" r="0.28"/><circle cx="60.66" cy="558.88" r="0.28"/><circle cx="82.31" cy="561.35" r="0.28"/><circle cx="60.99" cy="571.12" r="0.28"/><circle cx="79.29" cy="556.96" r="0.28"/><circle cx="53.54" cy="556.87" r="0.28"/><circle cx="62.91" cy="572.06" r="0.28"/><circle cx="80.61" cy="570.45" r="0.28"/><circle cx="81.12" cy="568.92" r="0.28"/><circle cx="44.57" cy="561.16" r="0.28"/><circle cx="87.98" cy="570.96" r="0.28"/><circle cx="53.97" cy="558.92" r="0.28"/><circle cx="72.37" cy="557.56" r="0.28"/><circle cx="67.48" cy="550.63" r="0.28"/><circle cx="62.79" cy="560.86" r="0.28"/><circle cx="43.00" cy="552.28" r="0.28"/><circle cx="88.55" cy="567.25" r="0.28"/><circle cx="86.97" cy="563.88" r="0.28"/><circle cx="80.84" cy="569.78" r="0.28"/><circle cx="84.46" cy="549.81" r="0.28"/><circle cx="72.80" cy="555.25" r="0.28"/><circle cx="74.57" cy="555.43" r="0.28"/><circle cx="68.03" cy="570.72" r="0.28"/><circle cx="71.82" cy="554.89" r="0.28"/><circle cx="66.97" cy="559.19" r="0.28"/><circle cx="87.64" cy="555.76" r="0.28"/><circle cx="56.66" cy="564.22" r="0.28"/><circle cx="47.78" cy="562.97" r="0.28"/><circle cx="87.89" cy="561.07" r="0.28"/><circle cx="54.88" cy="559.96" r="0.28"/><circle cx="67.62" cy="552.49" r="0.28"/><circle cx="47.95" cy="552.09" r="0.28"/><circle cx="56.09" cy="558.55" r="0.28"/><circle cx="55.84" cy="554.72" r="0.28"/><circle cx="46.22" cy="561.84" r="0.28"/><circle cx="82.31" cy="563.33" r="0.28"/><circle cx="69.37" cy="564.28" r="0.28"/><circle cx="51.66" cy="565.69" r="0.28"/><circle cx="64.12" cy="561.88" r="0.28"/><circle cx="71.41" cy="560.02" r="0.28"/><circle cx="56.90" cy="554.69" r="0.28"/><circle cx="52.64" cy="561.04" r="0.28"/><circle cx="60.39" cy="562.76" r="0.28"/><circle cx="42.57" cy="557.29" r="0.28"/><circle cx="83.37" cy="554.61" r="0.28"/><circle cx="68.72" cy="560.55" r="0.28"/><circle cx="55.67" cy="572.21" r="0.28"/><circle cx="56.18" cy="567.15" r="0.28"/><circle cx="49.61" cy="550.57" r="0.28"/><circle cx="83.82" cy="559.34" r="0.28"/><circle cx="44.98" cy="558.12" r="0.28"/><circle cx="63.12" cy="566.28" r="0.28"/><circle cx="47.24" cy="554.29" r="0.28"/><circle cx="88.05" cy="566.36" r="0.28"/><circle cx="49.42" cy="556.92" r="0.28"/><circle cx="58.92" cy="564.87" r="0.28"/><circle cx="71.58" cy="568.97" r="0.28"/><circle cx="81.42" cy="561.17" r="0.28"/><circle cx="77.46" cy="566.47" r="0.28"/><circle cx="78.47" cy="560.17" r="0.28"/><circle cx="79.68" cy="565.65" r="0.28"/><circle cx="85.91" cy="551.99" r="0.28"/><circle cx="83.80" cy="549.10" r="0.28"/><circle cx="78.75" cy="562.77" r="0.28"/><circle cx="65.90" cy="571.62" r="0.28"/><circle cx="69.45" cy="558.82" r="0.28"/><circle cx="79.62" cy="569.51" r="0.28"/><circle cx="71.15" cy="557.92" r="0.28"/><circle cx="63.71" cy="559.76" r="0.28"/><circle cx="76.71" cy="555.88" r="0.28"/><circle cx="60.75" cy="562.05" r="0.28"/><circle cx="60.46" cy="556.57" r="0.28"/><circle cx="79.78" cy="568.96" r="0.28"/><circle cx="65.98" cy="559.43" r="0.28"/><circle cx="50.84" cy="556.14" r="0.28"/><circle cx="48.96" cy="562.52" r="0.28"/><circle cx="69.92" cy="551.07" r="0.28"/><circle cx="86.17" cy="556.61" r="0.28"/><circle cx="82.48" cy="568.70" r="0.28"/><circle cx="88.02" cy="553.80" r="0.28"/><circle cx="62.47" cy="570.40" r="0.28"/><circle cx="42.51" cy="550.11" r="0.28"/><circle cx="69.12" cy="560.69" r="0.28"/><circle cx="86.17" cy="567.18" r="0.28"/><circle cx="67.85" cy="572.46" r="0.28"/><circle cx="66.84" cy="561.16" r="0.28"/><circle cx="74.89" cy="558.15" r="0.28"/><circle cx="59.17" cy="562.98" r="0.28"/><circle cx="58.85" cy="571.28" r="0.28"/><circle cx="74.47" cy="561.34" r="0.28"/><circle cx="46.75" cy="557.80" r="0.28"/><circle cx="61.24" cy="562.19" r="0.28"/><circle cx="69.55" cy="569.68" r="0.28"/><circle cx="88.29" cy="560.44" r="0.28"/><circle cx="63.13" cy="563.68" r="0.28"/><circle cx="89.81" cy="557.07" r="0.28"/><circle cx="67.45" cy="568.17" r="0.28"/><circle cx="50.19" cy="556.47" r="0.28"/><circle cx="88.96" cy="568.41" r="0.28"/><circle cx="66.60" cy="551.60" r="0.28"/><circle cx="84.94" cy="565.21" r="0.28"/><circle cx="81.39" cy="572.27" r="0.28"/><circle cx="84.63" cy="558.89" r="0.28"/><circle cx="49.51" cy="555.81" r="0.28"/><circle cx="66.56" cy="560.86" r="0.28"/><circle cx="51.03" cy="553.29" r="0.28"/><circle cx="72.24" cy="563.17" r="0.28"/><circle cx="58.95" cy="572.35" r="0.28"/><circle cx="72.55" cy="549.99" r="0.28"/><circle cx="61.75" cy="567.51" r="0.28"/><circle cx="56.72" cy="565.23" r="0.28"/><circle cx="42.19" cy="556.15" r="0.28"/><circle cx="82.42" cy="562.78" r="0.28"/><circle cx="74.07" cy="553.62" r="0.28"/><circle cx="65.90" cy="562.00" r="0.28"/><circle cx="54.77" cy="564.20" r="0.28"/><circle cx="67.51" cy="572.43" r="0.28"/><circle cx="69.57" cy="558.66" r="0.28"/><circle cx="47.83" cy="552.68" r="0.28"/><circle cx="78.46" cy="551.51" r="0.28"/><circle cx="46.80" cy="553.01" r="0.28"/><circle cx="67.08" cy="568.34" r="0.28"/><circle cx="71.42" cy="567.96" r="0.28"/><circle cx="44.98" cy="549.29" r="0.28"/><circle cx="78.99" cy="556.59" r="0.28"/><circle cx="76.34" cy="557.32" r="0.28"/><circle cx="50.13" cy="555.27" r="0.28"/><circle cx="46.77" cy="570.24" r="0.28"/><circle cx="69.95" cy="557.20" r="0.28"/><circle cx="63.59" cy="558.06" r="0.28"/><circle cx="44.62" cy="569.93" r="0.28"/><circle cx="69.97" cy="571.55" r="0.28"/><circle cx="63.10" cy="563.57" r="0.28"/><circle cx="53.97" cy="550.03" r="0.28"/><circle cx="86.68" cy="569.09" r="0.28"/><circle cx="57.11" cy="570.12" r="0.28"/><circle cx="81.16" cy="556.14" r="0.28"/><circle cx="70.92" cy="571.56" r="0.28"/><circle cx="65.79" cy="571.32" r="0.28"/><circle cx="53.66" cy="558.16" r="0.28"/></g>
<path d="M47,572 C50,562 58,552 70,550 C80,548.5 84,553 84,562 C84,569 80,572.5 72,572.7 Z" fill="#dedede" fill-opacity="0.8" stroke="#aaa" stroke-width="0.35"/>
<path d="M55,572 C58,564 64,556 72,554 C79,553 81.5,557 81.5,563 C81.5,569 78.5,572 72,572.4 Z" fill="#cdcdcd" fill-opacity="0.8" stroke="#999" stroke-width="0.35"/>
<path d="M62,572 C65,566 69,561 74,560 C78,559.5 79.5,562 79,566 C78.5,570 76,572 72,572.2 Z" fill="#bdbdbd" fill-opacity="0.8" stroke="#888" stroke-width="0.35"/>
<ellipse cx="71" cy="571.3" rx="8" ry="1.3" fill="#666" fill-opacity="0.8"/>
<g fill="#1a1a1a"><rect x="41.00" y="559.00" width="2.46" height="0.7"/><rect x="41.00" y="559.91" width="1.97" height="0.7"/><rect x="41.00" y="561.15" width="2.18" height="0.7"/><rect x="41.00" y="562.34" width="1.89" height="0.7"/><rect x="41.00" y="563.23" width="2.03" height="0.7"/><rect x="41.00" y="564.12" width="2.77" height="0.7"/><rect x="41.00" y="565.07" width="2.27" height="0.7"/><rect x="41.00" y="565.93" width="2.24" height="0.7"/><rect x="41.00" y="566.92" width="2.08" height="0.7"/><rect x="41.00" y="567.75" width="1.75" height="0.7"/><rect x="41.00" y="568.97" width="2.02" height="0.7"/><rect x="41.00" y="569.89" width="1.83" height="0.7"/><rect x="41.00" y="570.83" width="1.88" height="0.7"/><rect x="41.00" y="571.65" width="2.40" height="0.7"/></g>
<rect x="89.6" y="543.8" width="30.8" height="29.2" fill="none" stroke="#333" stroke-width="0.7"/>
<text x="105.00" y="538.20" font-size="6.4" text-anchor="middle" fill="#333" font-weight="normal" stroke="#333" stroke-width="0.2">3.9%</text>
<g fill="#666"><circle cx="100.49" cy="569.20" r="0.28"/><circle cx="99.65" cy="565.74" r="0.28"/><circle cx="98.06" cy="562.20" r="0.28"/><circle cx="89.87" cy="566.65" r="0.28"/><circle cx="97.80" cy="561.78" r="0.28"/><circle cx="93.14" cy="569.11" r="0.28"/><circle cx="89.78" cy="571.05" r="0.28"/><circle cx="99.56" cy="573.48" r="0.28"/><circle cx="94.13" cy="563.91" r="0.28"/><circle cx="94.97" cy="564.62" r="0.28"/><circle cx="96.16" cy="561.01" r="0.28"/><circle cx="101.30" cy="560.86" r="0.28"/><circle cx="94.97" cy="566.22" r="0.28"/><circle cx="94.85" cy="562.26" r="0.28"/><circle cx="98.42" cy="562.53" r="0.28"/><circle cx="92.01" cy="563.59" r="0.28"/><circle cx="96.12" cy="570.82" r="0.28"/><circle cx="92.61" cy="567.88" r="0.28"/><circle cx="93.86" cy="562.58" r="0.28"/><circle cx="95.69" cy="565.08" r="0.28"/><circle cx="100.45" cy="571.00" r="0.28"/><circle cx="94.45" cy="569.32" r="0.28"/><circle cx="100.98" cy="567.25" r="0.28"/><circle cx="93.96" cy="567.60" r="0.28"/><circle cx="96.57" cy="565.41" r="0.28"/><circle cx="95.92" cy="566.66" r="0.28"/><circle cx="101.46" cy="568.52" r="0.28"/><circle cx="96.18" cy="567.98" r="0.28"/><circle cx="102.81" cy="560.26" r="0.28"/><circle cx="102.89" cy="558.66" r="0.28"/><circle cx="99.17" cy="566.38" r="0.28"/><circle cx="102.93" cy="565.12" r="0.28"/><circle cx="95.08" cy="560.81" r="0.28"/><circle cx="92.00" cy="567.06" r="0.28"/><circle cx="96.05" cy="561.13" r="0.28"/><circle cx="99.13" cy="560.94" r="0.28"/><circle cx="95.25" cy="562.17" r="0.28"/><circle cx="103.62" cy="569.85" r="0.28"/><circle cx="96.37" cy="557.72" r="0.28"/><circle cx="98.11" cy="564.29" r="0.28"/><circle cx="98.40" cy="566.26" r="0.28"/><circle cx="95.72" cy="567.70" r="0.28"/><circle cx="100.35" cy="564.84" r="0.28"/><circle cx="95.37" cy="562.08" r="0.28"/><circle cx="99.77" cy="559.60" r="0.28"/><circle cx="96.36" cy="561.00" r="0.28"/><circle cx="91.43" cy="566.41" r="0.28"/><circle cx="96.90" cy="564.14" r="0.28"/><circle cx="100.50" cy="558.02" r="0.28"/><circle cx="96.73" cy="565.15" r="0.28"/></g>
<line x1="111.20" y1="570.50" x2="158.80" y2="570.50" stroke="#5c8fd0" stroke-width="0.9" />
<rect x="150.60" y="496.30" width="79.00" height="76.70" fill="none" stroke="#8a8a8a" stroke-width="0.6"/>
<line x1="150.60" y1="496.30" x2="150.60" y2="573.00" stroke="#6a6a6a" stroke-width="0.6" />
<line x1="150.60" y1="573.00" x2="229.60" y2="573.00" stroke="#6a6a6a" stroke-width="0.6" />
<line x1="149.80" y1="568.50" x2="150.60" y2="568.50" stroke="#888" stroke-width="0.3" />
<line x1="149.80" y1="566.60" x2="150.60" y2="566.60" stroke="#888" stroke-width="0.3" />
<line x1="149.80" y1="564.70" x2="150.60" y2="564.70" stroke="#888" stroke-width="0.3" />
<line x1="149.80" y1="562.80" x2="150.60" y2="562.80" stroke="#888" stroke-width="0.3" />
<line x1="149.80" y1="560.90" x2="150.60" y2="560.90" stroke="#888" stroke-width="0.3" />
<line x1="149.80" y1="559.00" x2="150.60" y2="559.00" stroke="#888" stroke-width="0.3" />
<line x1="149.80" y1="557.10" x2="150.60" y2="557.10" stroke="#888" stroke-width="0.3" />
<line x1="149.80" y1="555.20" x2="150.60" y2="555.20" stroke="#888" stroke-width="0.3" />
<line x1="149.80" y1="553.30" x2="150.60" y2="553.30" stroke="#888" stroke-width="0.3" />
<line x1="149.80" y1="551.40" x2="150.60" y2="551.40" stroke="#888" stroke-width="0.3" />
<line x1="149.80" y1="549.50" x2="150.60" y2="549.50" stroke="#888" stroke-width="0.3" />
<line x1="149.80" y1="547.60" x2="150.60" y2="547.60" stroke="#888" stroke-width="0.3" />
<line x1="149.80" y1="545.70" x2="150.60" y2="545.70" stroke="#888" stroke-width="0.3" />
<line x1="149.80" y1="543.80" x2="150.60" y2="543.80" stroke="#888" stroke-width="0.3" />
<line x1="149.80" y1="541.90" x2="150.60" y2="541.90" stroke="#888" stroke-width="0.3" />
<line x1="149.80" y1="540.00" x2="150.60" y2="540.00" stroke="#888" stroke-width="0.3" />
<line x1="149.80" y1="538.10" x2="150.60" y2="538.10" stroke="#888" stroke-width="0.3" />
<line x1="149.80" y1="536.20" x2="150.60" y2="536.20" stroke="#888" stroke-width="0.3" />
<line x1="149.80" y1="534.30" x2="150.60" y2="534.30" stroke="#888" stroke-width="0.3" />
<line x1="149.80" y1="532.40" x2="150.60" y2="532.40" stroke="#888" stroke-width="0.3" />
<line x1="149.80" y1="530.50" x2="150.60" y2="530.50" stroke="#888" stroke-width="0.3" />
<line x1="149.80" y1="528.60" x2="150.60" y2="528.60" stroke="#888" stroke-width="0.3" />
<line x1="149.80" y1="526.70" x2="150.60" y2="526.70" stroke="#888" stroke-width="0.3" />
<line x1="149.80" y1="524.80" x2="150.60" y2="524.80" stroke="#888" stroke-width="0.3" />
<line x1="149.80" y1="522.90" x2="150.60" y2="522.90" stroke="#888" stroke-width="0.3" />
<line x1="149.80" y1="521.00" x2="150.60" y2="521.00" stroke="#888" stroke-width="0.3" />
<line x1="149.80" y1="519.10" x2="150.60" y2="519.10" stroke="#888" stroke-width="0.3" />
<line x1="149.80" y1="517.20" x2="150.60" y2="517.20" stroke="#888" stroke-width="0.3" />
<line x1="149.80" y1="515.30" x2="150.60" y2="515.30" stroke="#888" stroke-width="0.3" />
<line x1="149.80" y1="513.40" x2="150.60" y2="513.40" stroke="#888" stroke-width="0.3" />
<line x1="149.80" y1="511.50" x2="150.60" y2="511.50" stroke="#888" stroke-width="0.3" />
<line x1="149.80" y1="509.60" x2="150.60" y2="509.60" stroke="#888" stroke-width="0.3" />
<line x1="149.80" y1="507.70" x2="150.60" y2="507.70" stroke="#888" stroke-width="0.3" />
<line x1="149.80" y1="505.80" x2="150.60" y2="505.80" stroke="#888" stroke-width="0.3" />
<line x1="149.80" y1="503.90" x2="150.60" y2="503.90" stroke="#888" stroke-width="0.3" />
<line x1="149.80" y1="502.00" x2="150.60" y2="502.00" stroke="#888" stroke-width="0.3" />
<line x1="149.80" y1="500.10" x2="150.60" y2="500.10" stroke="#888" stroke-width="0.3" />
<line x1="149.80" y1="498.20" x2="150.60" y2="498.20" stroke="#888" stroke-width="0.3" />
<line x1="149.00" y1="568.50" x2="150.60" y2="568.50" stroke="#444" stroke-width="0.5" />
<text x="147.20" y="569.90" font-size="3.9" text-anchor="end" fill="#444" font-weight="normal" stroke="#444" stroke-width="0.1">0</text>
<line x1="149.00" y1="556.00" x2="150.60" y2="556.00" stroke="#444" stroke-width="0.5" />
<text x="147.20" y="557.40" font-size="3.9" text-anchor="end" fill="#444" font-weight="normal" stroke="#444" stroke-width="0.1">10<tspan font-size="2.6" dy="-1.5">2</tspan></text>
<line x1="149.00" y1="538.60" x2="150.60" y2="538.60" stroke="#444" stroke-width="0.5" />
<text x="147.20" y="540.00" font-size="3.9" text-anchor="end" fill="#444" font-weight="normal" stroke="#444" stroke-width="0.1">10<tspan font-size="2.6" dy="-1.5">3</tspan></text>
<line x1="149.00" y1="520.40" x2="150.60" y2="520.40" stroke="#444" stroke-width="0.5" />
<text x="147.20" y="521.80" font-size="3.9" text-anchor="end" fill="#444" font-weight="normal" stroke="#444" stroke-width="0.1">10<tspan font-size="2.6" dy="-1.5">4</tspan></text>
<line x1="149.00" y1="502.40" x2="150.60" y2="502.40" stroke="#444" stroke-width="0.5" />
<text x="147.20" y="503.80" font-size="3.9" text-anchor="end" fill="#444" font-weight="normal" stroke="#444" stroke-width="0.1">10<tspan font-size="2.6" dy="-1.5">5</tspan></text>
<line x1="155.90" y1="573.00" x2="155.90" y2="574.40" stroke="#444" stroke-width="0.5" />
<text x="155.90" y="579.60" font-size="3.9" text-anchor="middle" fill="#444" font-weight="normal" stroke="#444" stroke-width="0.1">0</text>
<line x1="168.90" y1="573.00" x2="168.90" y2="574.40" stroke="#444" stroke-width="0.5" />
<text x="168.90" y="579.60" font-size="3.9" text-anchor="middle" fill="#444" font-weight="normal" stroke="#444" stroke-width="0.1">10<tspan font-size="2.6" dy="-1.5">2</tspan></text>
<line x1="185.10" y1="573.00" x2="185.10" y2="574.40" stroke="#444" stroke-width="0.5" />
<text x="185.10" y="579.60" font-size="3.9" text-anchor="middle" fill="#444" font-weight="normal" stroke="#444" stroke-width="0.1">10<tspan font-size="2.6" dy="-1.5">3</tspan></text>
<line x1="203.90" y1="573.00" x2="203.90" y2="574.40" stroke="#444" stroke-width="0.5" />
<text x="203.90" y="579.60" font-size="3.9" text-anchor="middle" fill="#444" font-weight="normal" stroke="#444" stroke-width="0.1">10<tspan font-size="2.6" dy="-1.5">4</tspan></text>
<line x1="221.40" y1="573.00" x2="221.40" y2="574.40" stroke="#444" stroke-width="0.5" />
<text x="221.40" y="579.60" font-size="3.9" text-anchor="middle" fill="#444" font-weight="normal" stroke="#444" stroke-width="0.1">10<tspan font-size="2.6" dy="-1.5">5</tspan></text>
<text transform="translate(133.30,561.40) rotate(-90)" x="0" y="3.10" font-size="8.6" text-anchor="middle" fill="#1a1a1a" textLength="7.2" lengthAdjust="spacingAndGlyphs" stroke="#1a1a1a" stroke-width="0.3">Lin</text>
<line x1="133.50" y1="550.00" x2="133.50" y2="517.00" stroke="#222" stroke-width="0.65" />
<polygon points="133.50,514.20 134.80,517.00 132.20,517.00" fill="#222"/>
<text x="152.60" y="590.20" font-size="8.2" text-anchor="start" fill="#1a1a1a" textLength="16.3" lengthAdjust="spacingAndGlyphs" stroke="#1a1a1a" stroke-width="0.3">CD161</text>
<line x1="173.40" y1="587.60" x2="205.80" y2="587.60" stroke="#222" stroke-width="0.6" />
<polygon points="208.40,587.60 205.80,588.80 205.80,586.40" fill="#222"/>
<g fill="#999"><circle cx="198.44" cy="541.44" r="0.28"/><circle cx="162.13" cy="519.67" r="0.28"/><circle cx="165.00" cy="552.49" r="0.28"/><circle cx="169.46" cy="559.87" r="0.28"/><circle cx="193.73" cy="510.17" r="0.28"/><circle cx="191.26" cy="528.62" r="0.28"/><circle cx="193.64" cy="554.72" r="0.28"/><circle cx="172.65" cy="510.40" r="0.28"/><circle cx="202.59" cy="530.44" r="0.28"/><circle cx="201.86" cy="546.50" r="0.28"/><circle cx="193.24" cy="554.80" r="0.28"/><circle cx="188.26" cy="532.17" r="0.28"/><circle cx="162.44" cy="546.90" r="0.28"/><circle cx="179.28" cy="535.71" r="0.28"/><circle cx="201.77" cy="512.66" r="0.28"/><circle cx="194.29" cy="507.62" r="0.28"/><circle cx="191.62" cy="553.34" r="0.28"/><circle cx="171.75" cy="537.78" r="0.28"/><circle cx="203.62" cy="543.25" r="0.28"/><circle cx="184.48" cy="519.98" r="0.28"/><circle cx="162.67" cy="526.47" r="0.28"/><circle cx="178.52" cy="517.08" r="0.28"/><circle cx="173.97" cy="513.19" r="0.28"/><circle cx="191.81" cy="545.22" r="0.28"/><circle cx="170.70" cy="519.50" r="0.28"/><circle cx="183.19" cy="531.70" r="0.28"/><circle cx="202.11" cy="526.09" r="0.28"/><circle cx="173.47" cy="558.08" r="0.28"/><circle cx="166.38" cy="538.80" r="0.28"/><circle cx="175.01" cy="553.92" r="0.28"/><circle cx="184.67" cy="550.63" r="0.28"/><circle cx="167.61" cy="544.99" r="0.28"/><circle cx="186.94" cy="532.67" r="0.28"/><circle cx="194.48" cy="554.87" r="0.28"/><circle cx="165.15" cy="522.36" r="0.28"/><circle cx="176.22" cy="517.39" r="0.28"/><circle cx="162.71" cy="521.85" r="0.28"/><circle cx="168.87" cy="547.10" r="0.28"/><circle cx="180.16" cy="511.78" r="0.28"/><circle cx="174.60" cy="533.12" r="0.28"/><circle cx="176.33" cy="515.09" r="0.28"/><circle cx="163.23" cy="505.65" r="0.28"/><circle cx="204.65" cy="550.03" r="0.28"/><circle cx="163.78" cy="548.03" r="0.28"/><circle cx="204.11" cy="538.82" r="0.28"/><circle cx="164.90" cy="534.33" r="0.28"/><circle cx="179.54" cy="516.39" r="0.28"/><circle cx="184.44" cy="505.50" r="0.28"/><circle cx="201.38" cy="543.67" r="0.28"/><circle cx="188.25" cy="561.11" r="0.28"/><circle cx="189.37" cy="520.08" r="0.28"/><circle cx="171.07" cy="513.32" r="0.28"/><circle cx="161.25" cy="551.47" r="0.28"/><circle cx="197.78" cy="522.78" r="0.28"/><circle cx="168.36" cy="543.29" r="0.28"/><circle cx="198.06" cy="560.60" r="0.28"/><circle cx="167.58" cy="552.08" r="0.28"/><circle cx="197.37" cy="549.54" r="0.28"/><circle cx="174.70" cy="516.07" r="0.28"/><circle cx="197.14" cy="524.21" r="0.28"/></g>
<g transform="translate(166.50,520.30) rotate(-8)"><ellipse cx="0" cy="0" rx="12.30" ry="7.90" fill="url(#gC)" fill-opacity="0.0"/><ellipse cx="-0.00" cy="0.00" rx="12.30" ry="7.90" fill="none" stroke="#777" stroke-width="0.35"/></g>
<g transform="translate(165.00,520.00) rotate(-10)"><ellipse cx="0" cy="0" rx="10.00" ry="6.80" fill="url(#gG)" fill-opacity="0.85"/><ellipse cx="-0.00" cy="0.00" rx="10.00" ry="6.80" fill="none" stroke="#888" stroke-width="0.3"/><ellipse cx="-0.09" cy="0.04" rx="8.57" ry="5.83" fill="none" stroke="#888" stroke-width="0.3"/><ellipse cx="-0.17" cy="0.08" rx="7.14" ry="4.86" fill="none" stroke="#888" stroke-width="0.3"/><ellipse cx="-0.26" cy="0.12" rx="5.71" ry="3.89" fill="none" stroke="#888" stroke-width="0.3"/><ellipse cx="-0.34" cy="0.16" rx="4.29" ry="2.91" fill="none" stroke="#888" stroke-width="0.3"/><ellipse cx="-0.43" cy="0.19" rx="2.86" ry="1.94" fill="none" stroke="#888" stroke-width="0.3"/><ellipse cx="-0.51" cy="0.23" rx="1.43" ry="0.97" fill="none" stroke="#888" stroke-width="0.3"/><ellipse cx="0" cy="0" rx="0.90" ry="0.54" fill="#fff" fill-opacity="0.9"/></g>
<g transform="translate(183.10,532.90) rotate(-40)"><ellipse cx="0" cy="0" rx="9.50" ry="7.00" fill="url(#gG)" fill-opacity="0.85"/><ellipse cx="-0.00" cy="0.00" rx="9.50" ry="7.00" fill="none" stroke="#888" stroke-width="0.3"/><ellipse cx="-0.08" cy="0.04" rx="8.14" ry="6.00" fill="none" stroke="#888" stroke-width="0.3"/><ellipse cx="-0.16" cy="0.08" rx="6.79" ry="5.00" fill="none" stroke="#888" stroke-width="0.3"/><ellipse cx="-0.24" cy="0.12" rx="5.43" ry="4.00" fill="none" stroke="#888" stroke-width="0.3"/><ellipse cx="-0.33" cy="0.16" rx="4.07" ry="3.00" fill="none" stroke="#888" stroke-width="0.3"/><ellipse cx="-0.41" cy="0.20" rx="2.71" ry="2.00" fill="none" stroke="#888" stroke-width="0.3"/><ellipse cx="-0.49" cy="0.24" rx="1.36" ry="1.00" fill="none" stroke="#888" stroke-width="0.3"/><ellipse cx="0" cy="0" rx="0.85" ry="0.56" fill="#fff" fill-opacity="0.9"/></g>
<path d="M177.1,570.4 V550.4 L184.2,540 Q186,537.7 189,537.7 H224.1 V570.4 Z" fill="none" stroke="#333" stroke-width="0.7" stroke-linejoin="round"/>
<text x="206.30" y="564.80" font-size="6.4" text-anchor="middle" fill="#333" font-weight="normal" stroke="#333" stroke-width="0.2">3.3%</text>
<rect x="151" y="571" width="6" height="2.4" fill="#222"/>
</svg>
</body></html>
